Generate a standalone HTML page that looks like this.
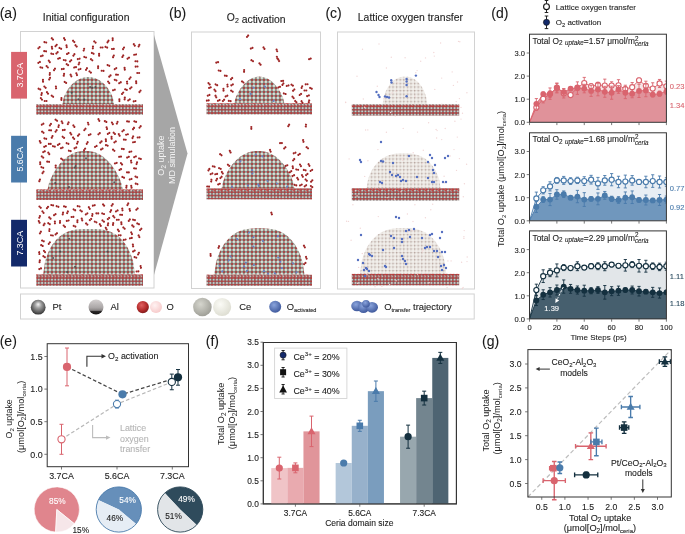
<!DOCTYPE html><html><head><meta charset="utf-8"><style>html,body{margin:0;padding:0;background:#fff;overflow:hidden}svg{display:block;will-change:transform}</style></head><body><svg width="685" height="534" viewBox="0 0 685 534" font-family="Liberation Sans">
<defs>
<pattern id="slab" width="3.3" height="3.3" patternUnits="userSpaceOnUse">
 <rect width="3.3" height="3.3" fill="#7c7474"/>
 <circle cx="0.85" cy="0.85" r="1.0" fill="#bf3838"/>
 <circle cx="2.5" cy="2.5" r="1.05" fill="#cdc9c5"/>
 <circle cx="2.5" cy="0.85" r="0.55" fill="#9a4a4a"/>
</pattern>
<radialGradient id="gsph" cx="0.42" cy="0.4" r="0.62"><stop offset="0" stop-color="#e6e8e0"/><stop offset="0.6" stop-color="#cdd0c6"/><stop offset="1" stop-color="#9ea296"/></radialGradient>
<pattern id="dome" width="4" height="4" patternUnits="userSpaceOnUse">
 <rect width="4" height="4" fill="#686662"/>
 <circle cx="2" cy="2" r="1.75" fill="url(#gsph)"/>
 <circle cx="0" cy="0" r="0.9" fill="#bf3838"/>
 <circle cx="4" cy="0" r="0.9" fill="#bf3838"/>
 <circle cx="0" cy="4" r="0.9" fill="#bf3838"/>
 <circle cx="4" cy="4" r="0.9" fill="#bf3838"/>
</pattern>
<pattern id="domec" width="3.6" height="3.6" patternUnits="userSpaceOnUse">
 <rect width="3.6" height="3.6" fill="#f2efeb"/>
 <path d="M0 0.6H3.6M0.6 0V3.6" stroke="#dbd3cd" stroke-width="0.6"/>
 <circle cx="0.6" cy="0.6" r="0.75" fill="#b8a6a0"/>
</pattern>
<pattern id="ztop" width="6.6" height="3" patternUnits="userSpaceOnUse">
 <path d="M0.6 0 L3.3 2.6 L6 0 L4.6 0 L3.3 1.3 L2 0 Z" fill="#c83434"/>
</pattern>
<pattern id="slabc" width="3.2" height="3.2" patternUnits="userSpaceOnUse">
 <rect width="3.2" height="3.2" fill="#6e6868"/>
 <circle cx="0.8" cy="0.8" r="0.9" fill="#c23a3a"/>
 <circle cx="2.4" cy="2.4" r="0.8" fill="#a8a4a2"/>
</pattern>
<radialGradient id="gPt" cx="0.5" cy="0.42" r="0.62" fx="0.5" fy="0.3"><stop offset="0" stop-color="#f4f4f4"/><stop offset="0.35" stop-color="#a0a0a0"/><stop offset="0.8" stop-color="#505050"/><stop offset="1" stop-color="#202020"/></radialGradient>
<linearGradient id="gAl" x1="0" y1="0" x2="0" y2="1"><stop offset="0" stop-color="#d4d0d0"/><stop offset="0.55" stop-color="#aaa6a6"/><stop offset="0.72" stop-color="#8a8686"/><stop offset="0.8" stop-color="#2a2828"/><stop offset="1" stop-color="#101010"/></linearGradient>
<radialGradient id="gO" cx="0.4" cy="0.35" r="0.7"><stop offset="0" stop-color="#e06060"/><stop offset="0.6" stop-color="#b42c2c"/><stop offset="1" stop-color="#7a1818"/></radialGradient>
<radialGradient id="gOl" cx="0.4" cy="0.35" r="0.7"><stop offset="0" stop-color="#fff2f2"/><stop offset="1" stop-color="#f6c8c8"/></radialGradient>
<radialGradient id="gCe" cx="0.4" cy="0.35" r="0.7"><stop offset="0" stop-color="#d6d6ce"/><stop offset="1" stop-color="#9c9c94"/></radialGradient>
<radialGradient id="gCel" cx="0.4" cy="0.35" r="0.7"><stop offset="0" stop-color="#fbfbf6"/><stop offset="1" stop-color="#dcdcd0"/></radialGradient>
<radialGradient id="gB" cx="0.4" cy="0.35" r="0.7"><stop offset="0" stop-color="#8aa4dc"/><stop offset="1" stop-color="#3a5498"/></radialGradient>
</defs>
<rect width="685" height="534" fill="#ffffff"/>
<text x="-0.30" y="17.80" font-size="14" text-anchor="start" fill="#1a1a1a" stroke="#1a1a1a" stroke-width="0.1" >(a)</text>
<text x="169.00" y="17.80" font-size="14" text-anchor="start" fill="#1a1a1a" stroke="#1a1a1a" stroke-width="0.1" >(b)</text>
<text x="325.40" y="17.80" font-size="14" text-anchor="start" fill="#1a1a1a" stroke="#1a1a1a" stroke-width="0.1" >(c)</text>
<text x="491.30" y="17.80" font-size="14" text-anchor="start" fill="#1a1a1a" stroke="#1a1a1a" stroke-width="0.1" >(d)</text>
<text x="-0.30" y="345.90" font-size="14" text-anchor="start" fill="#1a1a1a" stroke="#1a1a1a" stroke-width="0.1" >(e)</text>
<text x="205.80" y="345.90" font-size="14" text-anchor="start" fill="#1a1a1a" stroke="#1a1a1a" stroke-width="0.1" >(f)</text>
<text x="482.00" y="345.90" font-size="14" text-anchor="start" fill="#1a1a1a" stroke="#1a1a1a" stroke-width="0.1" >(g)</text>
<text x="86.10" y="20.90" font-size="10.4" text-anchor="middle" fill="#222" stroke="#222" stroke-width="0.1" >Initial configuration</text>
<text x="256.20" y="21.30" font-size="10.4" text-anchor="middle" fill="#222" stroke="#222" stroke-width="0.1" >O<tspan font-size="7" dy="2.10">2</tspan><tspan dy="-2.10"></tspan> activation</text>
<text x="410.40" y="21.30" font-size="10.4" text-anchor="middle" fill="#222" stroke="#222" stroke-width="0.1" >Lattice oxygen transfer</text>
<rect x="20.5" y="31.5" width="133.5" height="256.5" fill="none" stroke="#d2d2d2" stroke-width="1"/>
<rect x="191.5" y="32" width="129" height="256.5" fill="none" stroke="#d2d2d2" stroke-width="1"/>
<rect x="337.5" y="32" width="137" height="257" fill="none" stroke="#d2d2d2" stroke-width="1"/>
<rect x="20.5" y="294" width="453.7" height="25" fill="none" stroke="#d2d2d2" stroke-width="1"/>
<path d="M154 35 L187.5 153.5 L154 275 Z" fill="#a6a6a6"/>
<g transform="translate(163.6 155.6) rotate(-90)"><text x="0" y="0" font-size="9" text-anchor="middle" fill="#f4f4f4">O<tspan font-size="6.3" dy="2">2</tspan><tspan dy="-2"> uptake</tspan></text><text x="0" y="11.2" font-size="9" text-anchor="middle" fill="#f4f4f4">MD simulation</text></g>
<rect x="11.1" y="51.9" width="15.9" height="46.7" fill="#d9646e"/>
<text transform="translate(23 75.2) rotate(-90)" font-size="8.9" text-anchor="middle" fill="#ffffff">3.7CA</text>
<rect x="11.1" y="135.8" width="15.9" height="46.7" fill="#4a7bab"/>
<text transform="translate(23 159.2) rotate(-90)" font-size="8.9" text-anchor="middle" fill="#ffffff">5.6CA</text>
<rect x="11.1" y="219.8" width="15.9" height="46.7" fill="#13296a"/>
<text transform="translate(23 243.2) rotate(-90)" font-size="8.9" text-anchor="middle" fill="#ffffff">7.3CA</text>
<path d="M62.40,104.20 L63.48,98.45 L64.55,95.48 L65.63,93.14 L66.71,91.16 L67.79,89.44 L68.86,87.91 L69.94,86.54 L71.02,85.31 L72.09,84.19 L73.17,83.18 L74.25,82.27 L75.33,81.44 L76.40,80.70 L77.48,80.03 L78.56,79.44 L79.63,78.92 L80.71,78.46 L81.79,78.07 L82.86,77.74 L83.94,77.47 L85.02,77.26 L86.10,77.12 L87.17,77.03 L88.25,77.00 L89.33,77.03 L90.40,77.12 L91.48,77.26 L92.56,77.47 L93.64,77.74 L94.71,78.07 L95.79,78.46 L96.87,78.92 L97.94,79.44 L99.02,80.03 L100.10,80.70 L101.17,81.44 L102.25,82.27 L103.33,83.18 L104.41,84.19 L105.48,85.31 L106.56,86.54 L107.64,87.91 L108.71,89.44 L109.79,91.16 L110.87,93.14 L111.95,95.48 L113.02,98.45 L114.10,104.20 Z" fill="url(#dome)"/>
<rect x="36.3" y="104.2" width="106.7" height="10.5" fill="url(#slab)"/>
<rect x="36.3" y="104.0" width="106.7" height="3" fill="url(#ztop)" opacity="0.8"/>
<g fill="#48484c" opacity="0.85"><circle cx="90.1" cy="86.9" r="1.0"/><circle cx="84.3" cy="99.5" r="1.0"/><circle cx="92.2" cy="87.8" r="1.0"/><circle cx="78.3" cy="99.2" r="1.0"/><circle cx="71.7" cy="92.8" r="1.0"/><circle cx="95.4" cy="87.1" r="1.0"/></g>
<g fill="#9e2424"><g transform="translate(94.9 42.0) rotate(41)"><circle cx="-0.9" cy="0" r="1.08"/><circle cx="0.9" cy="0" r="1.08"/></g><g transform="translate(45.1 51.2) rotate(6)"><circle cx="-0.9" cy="0" r="1.08"/><circle cx="0.9" cy="0" r="1.08"/></g><g transform="translate(108.4 65.4) rotate(24)"><circle cx="-0.9" cy="0" r="1.08"/><circle cx="0.9" cy="0" r="1.08"/></g><g transform="translate(71.0 75.5) rotate(65)"><circle cx="-0.9" cy="0" r="1.08"/><circle cx="0.9" cy="0" r="1.08"/></g><g transform="translate(85.2 57.2) rotate(19)"><circle cx="-0.9" cy="0" r="1.08"/><circle cx="0.9" cy="0" r="1.08"/></g><g transform="translate(120.0 82.7) rotate(150)"><circle cx="-0.9" cy="0" r="1.08"/><circle cx="0.9" cy="0" r="1.08"/></g><g transform="translate(63.9 74.8) rotate(101)"><circle cx="-0.9" cy="0" r="1.08"/><circle cx="0.9" cy="0" r="1.08"/></g><g transform="translate(113.4 56.4) rotate(113)"><circle cx="-0.9" cy="0" r="1.08"/><circle cx="0.9" cy="0" r="1.08"/></g><g transform="translate(139.0 45.6) rotate(113)"><circle cx="-0.9" cy="0" r="1.08"/><circle cx="0.9" cy="0" r="1.08"/></g><g transform="translate(54.5 69.3) rotate(123)"><circle cx="-0.9" cy="0" r="1.08"/><circle cx="0.9" cy="0" r="1.08"/></g><g transform="translate(43.0 80.8) rotate(88)"><circle cx="-0.9" cy="0" r="1.08"/><circle cx="0.9" cy="0" r="1.08"/></g><g transform="translate(117.0 74.7) rotate(1)"><circle cx="-0.9" cy="0" r="1.08"/><circle cx="0.9" cy="0" r="1.08"/></g><g transform="translate(128.3 58.1) rotate(144)"><circle cx="-0.9" cy="0" r="1.08"/><circle cx="0.9" cy="0" r="1.08"/></g><g transform="translate(109.9 76.0) rotate(135)"><circle cx="-0.9" cy="0" r="1.08"/><circle cx="0.9" cy="0" r="1.08"/></g><g transform="translate(98.1 67.2) rotate(91)"><circle cx="-0.9" cy="0" r="1.08"/><circle cx="0.9" cy="0" r="1.08"/></g><g transform="translate(124.7 98.5) rotate(96)"><circle cx="-0.9" cy="0" r="1.08"/><circle cx="0.9" cy="0" r="1.08"/></g><g transform="translate(122.8 56.2) rotate(119)"><circle cx="-0.9" cy="0" r="1.08"/><circle cx="0.9" cy="0" r="1.08"/></g><g transform="translate(41.3 67.5) rotate(12)"><circle cx="-0.9" cy="0" r="1.08"/><circle cx="0.9" cy="0" r="1.08"/></g><g transform="translate(56.1 45.5) rotate(133)"><circle cx="-0.9" cy="0" r="1.08"/><circle cx="0.9" cy="0" r="1.08"/></g><g transform="translate(45.0 87.2) rotate(45)"><circle cx="-0.9" cy="0" r="1.08"/><circle cx="0.9" cy="0" r="1.08"/></g><g transform="translate(52.2 53.8) rotate(13)"><circle cx="-0.9" cy="0" r="1.08"/><circle cx="0.9" cy="0" r="1.08"/></g><g transform="translate(47.2 66.7) rotate(48)"><circle cx="-0.9" cy="0" r="1.08"/><circle cx="0.9" cy="0" r="1.08"/></g><g transform="translate(122.6 93.3) rotate(131)"><circle cx="-0.9" cy="0" r="1.08"/><circle cx="0.9" cy="0" r="1.08"/></g><g transform="translate(67.4 64.6) rotate(37)"><circle cx="-0.9" cy="0" r="1.08"/><circle cx="0.9" cy="0" r="1.08"/></g><g transform="translate(57.0 52.8) rotate(133)"><circle cx="-0.9" cy="0" r="1.08"/><circle cx="0.9" cy="0" r="1.08"/></g><g transform="translate(62.8 69.0) rotate(176)"><circle cx="-0.9" cy="0" r="1.08"/><circle cx="0.9" cy="0" r="1.08"/></g><g transform="translate(99.1 54.8) rotate(89)"><circle cx="-0.9" cy="0" r="1.08"/><circle cx="0.9" cy="0" r="1.08"/></g><g transform="translate(76.7 74.2) rotate(69)"><circle cx="-0.9" cy="0" r="1.08"/><circle cx="0.9" cy="0" r="1.08"/></g><g transform="translate(136.2 82.2) rotate(86)"><circle cx="-0.9" cy="0" r="1.08"/><circle cx="0.9" cy="0" r="1.08"/></g><g transform="translate(108.0 41.5) rotate(123)"><circle cx="-0.9" cy="0" r="1.08"/><circle cx="0.9" cy="0" r="1.08"/></g><g transform="translate(130.8 87.9) rotate(138)"><circle cx="-0.9" cy="0" r="1.08"/><circle cx="0.9" cy="0" r="1.08"/></g><g transform="translate(79.0 63.5) rotate(111)"><circle cx="-0.9" cy="0" r="1.08"/><circle cx="0.9" cy="0" r="1.08"/></g><g transform="translate(49.6 78.6) rotate(116)"><circle cx="-0.9" cy="0" r="1.08"/><circle cx="0.9" cy="0" r="1.08"/></g><g transform="translate(45.3 42.3) rotate(14)"><circle cx="-0.9" cy="0" r="1.08"/><circle cx="0.9" cy="0" r="1.08"/></g><g transform="translate(60.3 48.4) rotate(27)"><circle cx="-0.9" cy="0" r="1.08"/><circle cx="0.9" cy="0" r="1.08"/></g><g transform="translate(73.7 41.4) rotate(46)"><circle cx="-0.9" cy="0" r="1.08"/><circle cx="0.9" cy="0" r="1.08"/></g><g transform="translate(39.0 47.7) rotate(134)"><circle cx="-0.9" cy="0" r="1.08"/><circle cx="0.9" cy="0" r="1.08"/></g><g transform="translate(49.3 61.3) rotate(55)"><circle cx="-0.9" cy="0" r="1.08"/><circle cx="0.9" cy="0" r="1.08"/></g><g transform="translate(41.6 94.0) rotate(102)"><circle cx="-0.9" cy="0" r="1.08"/><circle cx="0.9" cy="0" r="1.08"/></g><g transform="translate(101.6 47.5) rotate(2)"><circle cx="-0.9" cy="0" r="1.08"/><circle cx="0.9" cy="0" r="1.08"/></g><g transform="translate(64.7 60.2) rotate(11)"><circle cx="-0.9" cy="0" r="1.08"/><circle cx="0.9" cy="0" r="1.08"/></g><g transform="translate(76.1 45.9) rotate(48)"><circle cx="-0.9" cy="0" r="1.08"/><circle cx="0.9" cy="0" r="1.08"/></g><g transform="translate(86.5 69.0) rotate(121)"><circle cx="-0.9" cy="0" r="1.08"/><circle cx="0.9" cy="0" r="1.08"/></g><g transform="translate(73.9 54.9) rotate(125)"><circle cx="-0.9" cy="0" r="1.08"/><circle cx="0.9" cy="0" r="1.08"/></g><g transform="translate(123.5 48.3) rotate(122)"><circle cx="-0.9" cy="0" r="1.08"/><circle cx="0.9" cy="0" r="1.08"/></g><g transform="translate(41.4 98.9) rotate(52)"><circle cx="-0.9" cy="0" r="1.08"/><circle cx="0.9" cy="0" r="1.08"/></g><g transform="translate(92.9 47.4) rotate(93)"><circle cx="-0.9" cy="0" r="1.08"/><circle cx="0.9" cy="0" r="1.08"/></g><g transform="translate(127.1 82.6) rotate(84)"><circle cx="-0.9" cy="0" r="1.08"/><circle cx="0.9" cy="0" r="1.08"/></g><g transform="translate(56.0 87.4) rotate(84)"><circle cx="-0.9" cy="0" r="1.08"/><circle cx="0.9" cy="0" r="1.08"/></g><g transform="translate(126.0 89.6) rotate(21)"><circle cx="-0.9" cy="0" r="1.08"/><circle cx="0.9" cy="0" r="1.08"/></g><g transform="translate(41.8 55.9) rotate(161)"><circle cx="-0.9" cy="0" r="1.08"/><circle cx="0.9" cy="0" r="1.08"/></g><g transform="translate(65.4 82.3) rotate(36)"><circle cx="-0.9" cy="0" r="1.08"/><circle cx="0.9" cy="0" r="1.08"/></g><g transform="translate(136.6 66.6) rotate(176)"><circle cx="-0.9" cy="0" r="1.08"/><circle cx="0.9" cy="0" r="1.08"/></g><g transform="translate(134.6 101.2) rotate(169)"><circle cx="-0.9" cy="0" r="1.08"/><circle cx="0.9" cy="0" r="1.08"/></g><g transform="translate(136.4 61.3) rotate(3)"><circle cx="-0.9" cy="0" r="1.08"/><circle cx="0.9" cy="0" r="1.08"/></g><g transform="translate(124.7 68.7) rotate(83)"><circle cx="-0.9" cy="0" r="1.08"/><circle cx="0.9" cy="0" r="1.08"/></g><g transform="translate(115.5 68.6) rotate(148)"><circle cx="-0.9" cy="0" r="1.08"/><circle cx="0.9" cy="0" r="1.08"/></g><g transform="translate(112.9 48.9) rotate(174)"><circle cx="-0.9" cy="0" r="1.08"/><circle cx="0.9" cy="0" r="1.08"/></g><g transform="translate(52.0 47.7) rotate(81)"><circle cx="-0.9" cy="0" r="1.08"/><circle cx="0.9" cy="0" r="1.08"/></g><g transform="translate(52.4 38.9) rotate(48)"><circle cx="-0.9" cy="0" r="1.08"/><circle cx="0.9" cy="0" r="1.08"/></g><g transform="translate(52.4 96.2) rotate(38)"><circle cx="-0.9" cy="0" r="1.08"/><circle cx="0.9" cy="0" r="1.08"/></g><g transform="translate(75.1 67.3) rotate(170)"><circle cx="-0.9" cy="0" r="1.08"/><circle cx="0.9" cy="0" r="1.08"/></g><g transform="translate(90.2 72.0) rotate(38)"><circle cx="-0.9" cy="0" r="1.08"/><circle cx="0.9" cy="0" r="1.08"/></g><g transform="translate(83.9 49.7) rotate(105)"><circle cx="-0.9" cy="0" r="1.08"/><circle cx="0.9" cy="0" r="1.08"/></g><g transform="translate(39.4 89.1) rotate(26)"><circle cx="-0.9" cy="0" r="1.08"/><circle cx="0.9" cy="0" r="1.08"/></g><g transform="translate(49.8 73.9) rotate(94)"><circle cx="-0.9" cy="0" r="1.08"/><circle cx="0.9" cy="0" r="1.08"/></g><g transform="translate(135.1 54.6) rotate(171)"><circle cx="-0.9" cy="0" r="1.08"/><circle cx="0.9" cy="0" r="1.08"/></g><g transform="translate(106.3 47.2) rotate(24)"><circle cx="-0.9" cy="0" r="1.08"/><circle cx="0.9" cy="0" r="1.08"/></g><g transform="translate(129.0 99.9) rotate(148)"><circle cx="-0.9" cy="0" r="1.08"/><circle cx="0.9" cy="0" r="1.08"/></g><g transform="translate(61.4 99.0) rotate(92)"><circle cx="-0.9" cy="0" r="1.08"/><circle cx="0.9" cy="0" r="1.08"/></g><g transform="translate(79.6 69.2) rotate(160)"><circle cx="-0.9" cy="0" r="1.08"/><circle cx="0.9" cy="0" r="1.08"/></g><g transform="translate(140.0 91.3) rotate(127)"><circle cx="-0.9" cy="0" r="1.08"/><circle cx="0.9" cy="0" r="1.08"/></g><g transform="translate(91.6 59.7) rotate(42)"><circle cx="-0.9" cy="0" r="1.08"/><circle cx="0.9" cy="0" r="1.08"/></g><g transform="translate(59.0 58.4) rotate(162)"><circle cx="-0.9" cy="0" r="1.08"/><circle cx="0.9" cy="0" r="1.08"/></g><g transform="translate(112.7 39.2) rotate(88)"><circle cx="-0.9" cy="0" r="1.08"/><circle cx="0.9" cy="0" r="1.08"/></g><g transform="translate(102.6 70.8) rotate(4)"><circle cx="-0.9" cy="0" r="1.08"/><circle cx="0.9" cy="0" r="1.08"/></g><g transform="translate(45.6 101.0) rotate(1)"><circle cx="-0.9" cy="0" r="1.08"/><circle cx="0.9" cy="0" r="1.08"/></g><g transform="translate(119.4 100.2) rotate(89)"><circle cx="-0.9" cy="0" r="1.08"/><circle cx="0.9" cy="0" r="1.08"/></g><g transform="translate(66.6 46.3) rotate(81)"><circle cx="-0.9" cy="0" r="1.08"/><circle cx="0.9" cy="0" r="1.08"/></g><g transform="translate(47.5 92.8) rotate(54)"><circle cx="-0.9" cy="0" r="1.08"/><circle cx="0.9" cy="0" r="1.08"/></g><g transform="translate(92.7 53.3) rotate(25)"><circle cx="-0.9" cy="0" r="1.08"/><circle cx="0.9" cy="0" r="1.08"/></g><g transform="translate(64.5 39.0) rotate(62)"><circle cx="-0.9" cy="0" r="1.08"/><circle cx="0.9" cy="0" r="1.08"/></g><g transform="translate(134.3 44.8) rotate(57)"><circle cx="-0.9" cy="0" r="1.08"/><circle cx="0.9" cy="0" r="1.08"/></g><g transform="translate(67.8 53.5) rotate(151)"><circle cx="-0.9" cy="0" r="1.08"/><circle cx="0.9" cy="0" r="1.08"/></g><g transform="translate(138.2 73.0) rotate(0)"><circle cx="-0.9" cy="0" r="1.08"/><circle cx="0.9" cy="0" r="1.08"/></g><g transform="translate(70.6 60.8) rotate(135)"><circle cx="-0.9" cy="0" r="1.08"/><circle cx="0.9" cy="0" r="1.08"/></g><g transform="translate(39.1 62.4) rotate(151)"><circle cx="-0.9" cy="0" r="1.08"/><circle cx="0.9" cy="0" r="1.08"/></g><g transform="translate(115.6 80.1) rotate(22)"><circle cx="-0.9" cy="0" r="1.08"/><circle cx="0.9" cy="0" r="1.08"/></g><g transform="translate(78.7 58.9) rotate(167)"><circle cx="-0.9" cy="0" r="1.08"/><circle cx="0.9" cy="0" r="1.08"/></g><g transform="translate(130.0 78.1) rotate(128)"><circle cx="-0.9" cy="0" r="1.08"/><circle cx="0.9" cy="0" r="1.08"/></g><g transform="translate(113.9 90.0) rotate(162)"><circle cx="-0.9" cy="0" r="1.08"/><circle cx="0.9" cy="0" r="1.08"/></g><g transform="translate(108.7 82.4) rotate(52)"><circle cx="-0.9" cy="0" r="1.08"/><circle cx="0.9" cy="0" r="1.08"/></g></g>
<path d="M47.50,189.50 L49.07,183.19 L50.64,179.09 L52.21,175.67 L53.78,172.68 L55.35,170.02 L56.92,167.63 L58.50,165.47 L60.07,163.51 L61.64,161.74 L63.21,160.13 L64.78,158.69 L66.35,157.39 L67.92,156.23 L69.49,155.20 L71.06,154.30 L72.63,153.51 L74.20,152.84 L75.78,152.28 L77.35,151.82 L78.92,151.46 L80.49,151.20 L82.06,151.02 L83.63,150.93 L85.20,150.90 L86.77,150.93 L88.34,151.02 L89.91,151.20 L91.48,151.46 L93.05,151.82 L94.62,152.28 L96.20,152.84 L97.77,153.51 L99.34,154.30 L100.91,155.20 L102.48,156.23 L104.05,157.39 L105.62,158.69 L107.19,160.13 L108.76,161.74 L110.33,163.51 L111.90,165.47 L113.48,167.63 L115.05,170.02 L116.62,172.68 L118.19,175.67 L119.76,179.09 L121.33,183.19 L122.90,189.50 Z" fill="url(#dome)"/>
<rect x="36.3" y="189.5" width="106.7" height="10.5" fill="url(#slab)"/>
<rect x="36.3" y="189.3" width="106.7" height="3" fill="url(#ztop)" opacity="0.8"/>
<g fill="#48484c" opacity="0.85"><circle cx="75.6" cy="166.1" r="1.0"/><circle cx="74.7" cy="167.4" r="1.0"/><circle cx="55.2" cy="183.1" r="1.0"/><circle cx="69.0" cy="187.0" r="1.0"/><circle cx="86.0" cy="158.2" r="1.0"/><circle cx="114.2" cy="182.2" r="1.0"/></g>
<g fill="#9e2424"><g transform="translate(135.0 156.8) rotate(158)"><circle cx="-0.9" cy="0" r="1.08"/><circle cx="0.9" cy="0" r="1.08"/></g><g transform="translate(112.4 123.3) rotate(59)"><circle cx="-0.9" cy="0" r="1.08"/><circle cx="0.9" cy="0" r="1.08"/></g><g transform="translate(113.7 150.2) rotate(43)"><circle cx="-0.9" cy="0" r="1.08"/><circle cx="0.9" cy="0" r="1.08"/></g><g transform="translate(115.8 163.2) rotate(163)"><circle cx="-0.9" cy="0" r="1.08"/><circle cx="0.9" cy="0" r="1.08"/></g><g transform="translate(68.2 123.3) rotate(114)"><circle cx="-0.9" cy="0" r="1.08"/><circle cx="0.9" cy="0" r="1.08"/></g><g transform="translate(133.5 128.5) rotate(125)"><circle cx="-0.9" cy="0" r="1.08"/><circle cx="0.9" cy="0" r="1.08"/></g><g transform="translate(87.2 143.0) rotate(120)"><circle cx="-0.9" cy="0" r="1.08"/><circle cx="0.9" cy="0" r="1.08"/></g><g transform="translate(138.6 137.4) rotate(176)"><circle cx="-0.9" cy="0" r="1.08"/><circle cx="0.9" cy="0" r="1.08"/></g><g transform="translate(105.9 140.2) rotate(85)"><circle cx="-0.9" cy="0" r="1.08"/><circle cx="0.9" cy="0" r="1.08"/></g><g transform="translate(95.8 146.4) rotate(151)"><circle cx="-0.9" cy="0" r="1.08"/><circle cx="0.9" cy="0" r="1.08"/></g><g transform="translate(56.1 130.8) rotate(126)"><circle cx="-0.9" cy="0" r="1.08"/><circle cx="0.9" cy="0" r="1.08"/></g><g transform="translate(89.7 134.7) rotate(154)"><circle cx="-0.9" cy="0" r="1.08"/><circle cx="0.9" cy="0" r="1.08"/></g><g transform="translate(131.4 186.8) rotate(79)"><circle cx="-0.9" cy="0" r="1.08"/><circle cx="0.9" cy="0" r="1.08"/></g><g transform="translate(84.9 129.4) rotate(130)"><circle cx="-0.9" cy="0" r="1.08"/><circle cx="0.9" cy="0" r="1.08"/></g><g transform="translate(58.6 126.1) rotate(103)"><circle cx="-0.9" cy="0" r="1.08"/><circle cx="0.9" cy="0" r="1.08"/></g><g transform="translate(73.9 126.1) rotate(55)"><circle cx="-0.9" cy="0" r="1.08"/><circle cx="0.9" cy="0" r="1.08"/></g><g transform="translate(63.4 137.3) rotate(38)"><circle cx="-0.9" cy="0" r="1.08"/><circle cx="0.9" cy="0" r="1.08"/></g><g transform="translate(77.4 142.7) rotate(112)"><circle cx="-0.9" cy="0" r="1.08"/><circle cx="0.9" cy="0" r="1.08"/></g><g transform="translate(45.3 138.6) rotate(14)"><circle cx="-0.9" cy="0" r="1.08"/><circle cx="0.9" cy="0" r="1.08"/></g><g transform="translate(127.0 134.5) rotate(164)"><circle cx="-0.9" cy="0" r="1.08"/><circle cx="0.9" cy="0" r="1.08"/></g><g transform="translate(136.3 176.9) rotate(26)"><circle cx="-0.9" cy="0" r="1.08"/><circle cx="0.9" cy="0" r="1.08"/></g><g transform="translate(128.0 121.5) rotate(5)"><circle cx="-0.9" cy="0" r="1.08"/><circle cx="0.9" cy="0" r="1.08"/></g><g transform="translate(42.3 167.5) rotate(19)"><circle cx="-0.9" cy="0" r="1.08"/><circle cx="0.9" cy="0" r="1.08"/></g><g transform="translate(130.4 151.7) rotate(167)"><circle cx="-0.9" cy="0" r="1.08"/><circle cx="0.9" cy="0" r="1.08"/></g><g transform="translate(98.9 120.0) rotate(62)"><circle cx="-0.9" cy="0" r="1.08"/><circle cx="0.9" cy="0" r="1.08"/></g><g transform="translate(123.2 177.3) rotate(26)"><circle cx="-0.9" cy="0" r="1.08"/><circle cx="0.9" cy="0" r="1.08"/></g><g transform="translate(50.1 130.3) rotate(5)"><circle cx="-0.9" cy="0" r="1.08"/><circle cx="0.9" cy="0" r="1.08"/></g><g transform="translate(135.0 168.4) rotate(7)"><circle cx="-0.9" cy="0" r="1.08"/><circle cx="0.9" cy="0" r="1.08"/></g><g transform="translate(43.0 172.4) rotate(125)"><circle cx="-0.9" cy="0" r="1.08"/><circle cx="0.9" cy="0" r="1.08"/></g><g transform="translate(52.1 136.9) rotate(114)"><circle cx="-0.9" cy="0" r="1.08"/><circle cx="0.9" cy="0" r="1.08"/></g><g transform="translate(50.4 124.7) rotate(125)"><circle cx="-0.9" cy="0" r="1.08"/><circle cx="0.9" cy="0" r="1.08"/></g><g transform="translate(78.6 135.0) rotate(133)"><circle cx="-0.9" cy="0" r="1.08"/><circle cx="0.9" cy="0" r="1.08"/></g><g transform="translate(69.8 150.9) rotate(12)"><circle cx="-0.9" cy="0" r="1.08"/><circle cx="0.9" cy="0" r="1.08"/></g><g transform="translate(136.8 163.2) rotate(106)"><circle cx="-0.9" cy="0" r="1.08"/><circle cx="0.9" cy="0" r="1.08"/></g><g transform="translate(62.1 122.3) rotate(65)"><circle cx="-0.9" cy="0" r="1.08"/><circle cx="0.9" cy="0" r="1.08"/></g><g transform="translate(108.6 133.3) rotate(147)"><circle cx="-0.9" cy="0" r="1.08"/><circle cx="0.9" cy="0" r="1.08"/></g><g transform="translate(120.3 169.5) rotate(148)"><circle cx="-0.9" cy="0" r="1.08"/><circle cx="0.9" cy="0" r="1.08"/></g><g transform="translate(61.8 147.9) rotate(160)"><circle cx="-0.9" cy="0" r="1.08"/><circle cx="0.9" cy="0" r="1.08"/></g><g transform="translate(53.9 146.4) rotate(12)"><circle cx="-0.9" cy="0" r="1.08"/><circle cx="0.9" cy="0" r="1.08"/></g><g transform="translate(45.1 146.4) rotate(156)"><circle cx="-0.9" cy="0" r="1.08"/><circle cx="0.9" cy="0" r="1.08"/></g><g transform="translate(130.6 179.2) rotate(165)"><circle cx="-0.9" cy="0" r="1.08"/><circle cx="0.9" cy="0" r="1.08"/></g><g transform="translate(134.0 142.1) rotate(170)"><circle cx="-0.9" cy="0" r="1.08"/><circle cx="0.9" cy="0" r="1.08"/></g><g transform="translate(106.8 145.4) rotate(19)"><circle cx="-0.9" cy="0" r="1.08"/><circle cx="0.9" cy="0" r="1.08"/></g><g transform="translate(56.3 120.2) rotate(37)"><circle cx="-0.9" cy="0" r="1.08"/><circle cx="0.9" cy="0" r="1.08"/></g><g transform="translate(67.5 143.5) rotate(20)"><circle cx="-0.9" cy="0" r="1.08"/><circle cx="0.9" cy="0" r="1.08"/></g><g transform="translate(122.8 149.0) rotate(6)"><circle cx="-0.9" cy="0" r="1.08"/><circle cx="0.9" cy="0" r="1.08"/></g><g transform="translate(44.0 151.7) rotate(153)"><circle cx="-0.9" cy="0" r="1.08"/><circle cx="0.9" cy="0" r="1.08"/></g><g transform="translate(58.7 144.4) rotate(146)"><circle cx="-0.9" cy="0" r="1.08"/><circle cx="0.9" cy="0" r="1.08"/></g><g transform="translate(117.2 122.7) rotate(114)"><circle cx="-0.9" cy="0" r="1.08"/><circle cx="0.9" cy="0" r="1.08"/></g><g transform="translate(42.6 124.2) rotate(149)"><circle cx="-0.9" cy="0" r="1.08"/><circle cx="0.9" cy="0" r="1.08"/></g><g transform="translate(132.8 137.2) rotate(114)"><circle cx="-0.9" cy="0" r="1.08"/><circle cx="0.9" cy="0" r="1.08"/></g><g transform="translate(73.6 138.2) rotate(52)"><circle cx="-0.9" cy="0" r="1.08"/><circle cx="0.9" cy="0" r="1.08"/></g><g transform="translate(135.2 121.6) rotate(18)"><circle cx="-0.9" cy="0" r="1.08"/><circle cx="0.9" cy="0" r="1.08"/></g><g transform="translate(136.6 183.9) rotate(18)"><circle cx="-0.9" cy="0" r="1.08"/><circle cx="0.9" cy="0" r="1.08"/></g><g transform="translate(100.9 142.0) rotate(136)"><circle cx="-0.9" cy="0" r="1.08"/><circle cx="0.9" cy="0" r="1.08"/></g><g transform="translate(42.5 157.0) rotate(37)"><circle cx="-0.9" cy="0" r="1.08"/><circle cx="0.9" cy="0" r="1.08"/></g><g transform="translate(48.8 153.4) rotate(57)"><circle cx="-0.9" cy="0" r="1.08"/><circle cx="0.9" cy="0" r="1.08"/></g><g transform="translate(106.8 128.1) rotate(76)"><circle cx="-0.9" cy="0" r="1.08"/><circle cx="0.9" cy="0" r="1.08"/></g><g transform="translate(124.8 139.7) rotate(4)"><circle cx="-0.9" cy="0" r="1.08"/><circle cx="0.9" cy="0" r="1.08"/></g><g transform="translate(114.3 133.3) rotate(46)"><circle cx="-0.9" cy="0" r="1.08"/><circle cx="0.9" cy="0" r="1.08"/></g><g transform="translate(121.5 163.8) rotate(51)"><circle cx="-0.9" cy="0" r="1.08"/><circle cx="0.9" cy="0" r="1.08"/></g><g transform="translate(140.1 126.9) rotate(129)"><circle cx="-0.9" cy="0" r="1.08"/><circle cx="0.9" cy="0" r="1.08"/></g><g transform="translate(40.2 141.9) rotate(66)"><circle cx="-0.9" cy="0" r="1.08"/><circle cx="0.9" cy="0" r="1.08"/></g><g transform="translate(70.8 133.6) rotate(58)"><circle cx="-0.9" cy="0" r="1.08"/><circle cx="0.9" cy="0" r="1.08"/></g><g transform="translate(120.1 156.7) rotate(174)"><circle cx="-0.9" cy="0" r="1.08"/><circle cx="0.9" cy="0" r="1.08"/></g><g transform="translate(55.7 166.6) rotate(91)"><circle cx="-0.9" cy="0" r="1.08"/><circle cx="0.9" cy="0" r="1.08"/></g><g transform="translate(75.4 147.9) rotate(153)"><circle cx="-0.9" cy="0" r="1.08"/><circle cx="0.9" cy="0" r="1.08"/></g><g transform="translate(39.6 180.4) rotate(111)"><circle cx="-0.9" cy="0" r="1.08"/><circle cx="0.9" cy="0" r="1.08"/></g><g transform="translate(48.1 161.7) rotate(6)"><circle cx="-0.9" cy="0" r="1.08"/><circle cx="0.9" cy="0" r="1.08"/></g><g transform="translate(88.2 123.6) rotate(74)"><circle cx="-0.9" cy="0" r="1.08"/><circle cx="0.9" cy="0" r="1.08"/></g><g transform="translate(131.2 161.6) rotate(79)"><circle cx="-0.9" cy="0" r="1.08"/><circle cx="0.9" cy="0" r="1.08"/></g><g transform="translate(123.1 130.7) rotate(139)"><circle cx="-0.9" cy="0" r="1.08"/><circle cx="0.9" cy="0" r="1.08"/></g><g transform="translate(119.2 134.9) rotate(62)"><circle cx="-0.9" cy="0" r="1.08"/><circle cx="0.9" cy="0" r="1.08"/></g><g transform="translate(84.6 149.4) rotate(127)"><circle cx="-0.9" cy="0" r="1.08"/><circle cx="0.9" cy="0" r="1.08"/></g><g transform="translate(126.4 186.7) rotate(97)"><circle cx="-0.9" cy="0" r="1.08"/><circle cx="0.9" cy="0" r="1.08"/></g><g transform="translate(42.8 132.2) rotate(39)"><circle cx="-0.9" cy="0" r="1.08"/><circle cx="0.9" cy="0" r="1.08"/></g><g transform="translate(128.0 157.2) rotate(155)"><circle cx="-0.9" cy="0" r="1.08"/><circle cx="0.9" cy="0" r="1.08"/></g><g transform="translate(140.0 158.7) rotate(16)"><circle cx="-0.9" cy="0" r="1.08"/><circle cx="0.9" cy="0" r="1.08"/></g><g transform="translate(101.8 149.0) rotate(148)"><circle cx="-0.9" cy="0" r="1.08"/><circle cx="0.9" cy="0" r="1.08"/></g><g transform="translate(105.6 121.5) rotate(31)"><circle cx="-0.9" cy="0" r="1.08"/><circle cx="0.9" cy="0" r="1.08"/></g><g transform="translate(49.8 143.9) rotate(0)"><circle cx="-0.9" cy="0" r="1.08"/><circle cx="0.9" cy="0" r="1.08"/></g><g transform="translate(61.9 159.1) rotate(36)"><circle cx="-0.9" cy="0" r="1.08"/><circle cx="0.9" cy="0" r="1.08"/></g><g transform="translate(99.1 133.7) rotate(137)"><circle cx="-0.9" cy="0" r="1.08"/><circle cx="0.9" cy="0" r="1.08"/></g><g transform="translate(63.8 130.0) rotate(176)"><circle cx="-0.9" cy="0" r="1.08"/><circle cx="0.9" cy="0" r="1.08"/></g><g transform="translate(127.9 172.4) rotate(1)"><circle cx="-0.9" cy="0" r="1.08"/><circle cx="0.9" cy="0" r="1.08"/></g><g transform="translate(40.2 163.2) rotate(88)"><circle cx="-0.9" cy="0" r="1.08"/><circle cx="0.9" cy="0" r="1.08"/></g><g transform="translate(111.6 137.8) rotate(88)"><circle cx="-0.9" cy="0" r="1.08"/><circle cx="0.9" cy="0" r="1.08"/></g><g transform="translate(115.1 141.9) rotate(143)"><circle cx="-0.9" cy="0" r="1.08"/><circle cx="0.9" cy="0" r="1.08"/></g></g>
<path d="M43.10,274.50 L45.02,261.73 L46.93,255.63 L48.85,251.05 L50.77,247.35 L52.68,244.28 L54.60,241.68 L56.52,239.46 L58.43,237.57 L60.35,235.95 L62.27,234.57 L64.18,233.40 L66.10,232.41 L68.02,231.59 L69.93,230.91 L71.85,230.36 L73.77,229.92 L75.68,229.58 L77.60,229.33 L79.52,229.15 L81.43,229.03 L83.35,228.95 L85.27,228.92 L87.18,228.90 L89.10,228.90 L91.02,228.90 L92.93,228.92 L94.85,228.95 L96.77,229.03 L98.68,229.15 L100.60,229.33 L102.52,229.58 L104.43,229.92 L106.35,230.36 L108.27,230.91 L110.18,231.59 L112.10,232.41 L114.02,233.40 L115.93,234.57 L117.85,235.95 L119.77,237.57 L121.68,239.46 L123.60,241.68 L125.52,244.28 L127.43,247.35 L129.35,251.05 L131.27,255.63 L133.18,261.73 L135.10,274.50 Z" fill="url(#dome)"/>
<rect x="36.3" y="274.5" width="106.7" height="11.3" fill="url(#slab)"/>
<rect x="36.3" y="274.3" width="106.7" height="3" fill="url(#ztop)" opacity="0.8"/>
<g fill="#48484c" opacity="0.85"><circle cx="60.1" cy="251.5" r="1.0"/><circle cx="75.0" cy="266.8" r="1.0"/><circle cx="67.1" cy="271.9" r="1.0"/><circle cx="69.2" cy="238.7" r="1.0"/><circle cx="107.5" cy="251.6" r="1.0"/><circle cx="53.2" cy="257.9" r="1.0"/></g>
<g fill="#9e2424"><g transform="translate(129.8 209.9) rotate(77)"><circle cx="-0.9" cy="0" r="1.08"/><circle cx="0.9" cy="0" r="1.08"/></g><g transform="translate(60.0 221.9) rotate(92)"><circle cx="-0.9" cy="0" r="1.08"/><circle cx="0.9" cy="0" r="1.08"/></g><g transform="translate(130.9 238.1) rotate(167)"><circle cx="-0.9" cy="0" r="1.08"/><circle cx="0.9" cy="0" r="1.08"/></g><g transform="translate(74.5 226.2) rotate(23)"><circle cx="-0.9" cy="0" r="1.08"/><circle cx="0.9" cy="0" r="1.08"/></g><g transform="translate(56.3 233.8) rotate(137)"><circle cx="-0.9" cy="0" r="1.08"/><circle cx="0.9" cy="0" r="1.08"/></g><g transform="translate(51.9 235.4) rotate(8)"><circle cx="-0.9" cy="0" r="1.08"/><circle cx="0.9" cy="0" r="1.08"/></g><g transform="translate(129.3 220.2) rotate(126)"><circle cx="-0.9" cy="0" r="1.08"/><circle cx="0.9" cy="0" r="1.08"/></g><g transform="translate(54.8 214.6) rotate(145)"><circle cx="-0.9" cy="0" r="1.08"/><circle cx="0.9" cy="0" r="1.08"/></g><g transform="translate(64.3 226.2) rotate(47)"><circle cx="-0.9" cy="0" r="1.08"/><circle cx="0.9" cy="0" r="1.08"/></g><g transform="translate(92.3 214.9) rotate(98)"><circle cx="-0.9" cy="0" r="1.08"/><circle cx="0.9" cy="0" r="1.08"/></g><g transform="translate(72.5 216.9) rotate(174)"><circle cx="-0.9" cy="0" r="1.08"/><circle cx="0.9" cy="0" r="1.08"/></g><g transform="translate(138.5 253.6) rotate(115)"><circle cx="-0.9" cy="0" r="1.08"/><circle cx="0.9" cy="0" r="1.08"/></g><g transform="translate(49.4 230.1) rotate(98)"><circle cx="-0.9" cy="0" r="1.08"/><circle cx="0.9" cy="0" r="1.08"/></g><g transform="translate(49.9 218.0) rotate(45)"><circle cx="-0.9" cy="0" r="1.08"/><circle cx="0.9" cy="0" r="1.08"/></g><g transform="translate(78.6 206.3) rotate(11)"><circle cx="-0.9" cy="0" r="1.08"/><circle cx="0.9" cy="0" r="1.08"/></g><g transform="translate(131.6 233.2) rotate(64)"><circle cx="-0.9" cy="0" r="1.08"/><circle cx="0.9" cy="0" r="1.08"/></g><g transform="translate(82.0 219.5) rotate(74)"><circle cx="-0.9" cy="0" r="1.08"/><circle cx="0.9" cy="0" r="1.08"/></g><g transform="translate(103.2 221.0) rotate(36)"><circle cx="-0.9" cy="0" r="1.08"/><circle cx="0.9" cy="0" r="1.08"/></g><g transform="translate(118.4 230.4) rotate(56)"><circle cx="-0.9" cy="0" r="1.08"/><circle cx="0.9" cy="0" r="1.08"/></g><g transform="translate(42.9 240.9) rotate(25)"><circle cx="-0.9" cy="0" r="1.08"/><circle cx="0.9" cy="0" r="1.08"/></g><g transform="translate(49.3 243.1) rotate(127)"><circle cx="-0.9" cy="0" r="1.08"/><circle cx="0.9" cy="0" r="1.08"/></g><g transform="translate(40.4 232.5) rotate(121)"><circle cx="-0.9" cy="0" r="1.08"/><circle cx="0.9" cy="0" r="1.08"/></g><g transform="translate(86.7 224.0) rotate(43)"><circle cx="-0.9" cy="0" r="1.08"/><circle cx="0.9" cy="0" r="1.08"/></g><g transform="translate(124.0 228.1) rotate(44)"><circle cx="-0.9" cy="0" r="1.08"/><circle cx="0.9" cy="0" r="1.08"/></g><g transform="translate(77.4 221.2) rotate(93)"><circle cx="-0.9" cy="0" r="1.08"/><circle cx="0.9" cy="0" r="1.08"/></g><g transform="translate(39.3 253.1) rotate(80)"><circle cx="-0.9" cy="0" r="1.08"/><circle cx="0.9" cy="0" r="1.08"/></g><g transform="translate(67.7 220.7) rotate(168)"><circle cx="-0.9" cy="0" r="1.08"/><circle cx="0.9" cy="0" r="1.08"/></g><g transform="translate(106.2 228.6) rotate(63)"><circle cx="-0.9" cy="0" r="1.08"/><circle cx="0.9" cy="0" r="1.08"/></g><g transform="translate(103.6 205.0) rotate(54)"><circle cx="-0.9" cy="0" r="1.08"/><circle cx="0.9" cy="0" r="1.08"/></g><g transform="translate(40.2 268.7) rotate(159)"><circle cx="-0.9" cy="0" r="1.08"/><circle cx="0.9" cy="0" r="1.08"/></g><g transform="translate(95.6 222.0) rotate(26)"><circle cx="-0.9" cy="0" r="1.08"/><circle cx="0.9" cy="0" r="1.08"/></g><g transform="translate(62.9 213.5) rotate(101)"><circle cx="-0.9" cy="0" r="1.08"/><circle cx="0.9" cy="0" r="1.08"/></g><g transform="translate(89.3 208.0) rotate(60)"><circle cx="-0.9" cy="0" r="1.08"/><circle cx="0.9" cy="0" r="1.08"/></g><g transform="translate(86.6 213.8) rotate(147)"><circle cx="-0.9" cy="0" r="1.08"/><circle cx="0.9" cy="0" r="1.08"/></g><g transform="translate(39.7 261.2) rotate(99)"><circle cx="-0.9" cy="0" r="1.08"/><circle cx="0.9" cy="0" r="1.08"/></g><g transform="translate(137.0 209.1) rotate(137)"><circle cx="-0.9" cy="0" r="1.08"/><circle cx="0.9" cy="0" r="1.08"/></g><g transform="translate(41.9 245.5) rotate(30)"><circle cx="-0.9" cy="0" r="1.08"/><circle cx="0.9" cy="0" r="1.08"/></g><g transform="translate(44.1 224.4) rotate(120)"><circle cx="-0.9" cy="0" r="1.08"/><circle cx="0.9" cy="0" r="1.08"/></g><g transform="translate(39.6 216.9) rotate(108)"><circle cx="-0.9" cy="0" r="1.08"/><circle cx="0.9" cy="0" r="1.08"/></g><g transform="translate(133.0 245.4) rotate(83)"><circle cx="-0.9" cy="0" r="1.08"/><circle cx="0.9" cy="0" r="1.08"/></g><g transform="translate(108.5 218.5) rotate(138)"><circle cx="-0.9" cy="0" r="1.08"/><circle cx="0.9" cy="0" r="1.08"/></g><g transform="translate(116.8 210.9) rotate(150)"><circle cx="-0.9" cy="0" r="1.08"/><circle cx="0.9" cy="0" r="1.08"/></g><g transform="translate(57.5 206.5) rotate(21)"><circle cx="-0.9" cy="0" r="1.08"/><circle cx="0.9" cy="0" r="1.08"/></g><g transform="translate(43.0 212.1) rotate(52)"><circle cx="-0.9" cy="0" r="1.08"/><circle cx="0.9" cy="0" r="1.08"/></g><g transform="translate(139.0 236.3) rotate(65)"><circle cx="-0.9" cy="0" r="1.08"/><circle cx="0.9" cy="0" r="1.08"/></g><g transform="translate(81.1 210.9) rotate(37)"><circle cx="-0.9" cy="0" r="1.08"/><circle cx="0.9" cy="0" r="1.08"/></g><g transform="translate(52.2 205.2) rotate(11)"><circle cx="-0.9" cy="0" r="1.08"/><circle cx="0.9" cy="0" r="1.08"/></g><g transform="translate(113.8 216.7) rotate(51)"><circle cx="-0.9" cy="0" r="1.08"/><circle cx="0.9" cy="0" r="1.08"/></g><g transform="translate(44.1 256.6) rotate(35)"><circle cx="-0.9" cy="0" r="1.08"/><circle cx="0.9" cy="0" r="1.08"/></g><g transform="translate(112.2 204.8) rotate(126)"><circle cx="-0.9" cy="0" r="1.08"/><circle cx="0.9" cy="0" r="1.08"/></g><g transform="translate(122.4 209.4) rotate(81)"><circle cx="-0.9" cy="0" r="1.08"/><circle cx="0.9" cy="0" r="1.08"/></g><g transform="translate(135.4 257.4) rotate(20)"><circle cx="-0.9" cy="0" r="1.08"/><circle cx="0.9" cy="0" r="1.08"/></g><g transform="translate(100.3 225.0) rotate(58)"><circle cx="-0.9" cy="0" r="1.08"/><circle cx="0.9" cy="0" r="1.08"/></g><g transform="translate(121.4 223.3) rotate(84)"><circle cx="-0.9" cy="0" r="1.08"/><circle cx="0.9" cy="0" r="1.08"/></g><g transform="translate(39.2 221.9) rotate(65)"><circle cx="-0.9" cy="0" r="1.08"/><circle cx="0.9" cy="0" r="1.08"/></g><g transform="translate(74.4 209.8) rotate(30)"><circle cx="-0.9" cy="0" r="1.08"/><circle cx="0.9" cy="0" r="1.08"/></g><g transform="translate(134.0 219.9) rotate(13)"><circle cx="-0.9" cy="0" r="1.08"/><circle cx="0.9" cy="0" r="1.08"/></g><g transform="translate(119.7 235.3) rotate(2)"><circle cx="-0.9" cy="0" r="1.08"/><circle cx="0.9" cy="0" r="1.08"/></g><g transform="translate(117.8 219.8) rotate(179)"><circle cx="-0.9" cy="0" r="1.08"/><circle cx="0.9" cy="0" r="1.08"/></g><g transform="translate(140.7 229.4) rotate(135)"><circle cx="-0.9" cy="0" r="1.08"/><circle cx="0.9" cy="0" r="1.08"/></g><g transform="translate(64.9 206.6) rotate(15)"><circle cx="-0.9" cy="0" r="1.08"/><circle cx="0.9" cy="0" r="1.08"/></g><g transform="translate(47.5 207.5) rotate(129)"><circle cx="-0.9" cy="0" r="1.08"/><circle cx="0.9" cy="0" r="1.08"/></g><g transform="translate(137.5 271.4) rotate(176)"><circle cx="-0.9" cy="0" r="1.08"/><circle cx="0.9" cy="0" r="1.08"/></g><g transform="translate(108.0 224.3) rotate(101)"><circle cx="-0.9" cy="0" r="1.08"/><circle cx="0.9" cy="0" r="1.08"/></g><g transform="translate(103.1 213.7) rotate(20)"><circle cx="-0.9" cy="0" r="1.08"/><circle cx="0.9" cy="0" r="1.08"/></g><g transform="translate(54.9 222.4) rotate(88)"><circle cx="-0.9" cy="0" r="1.08"/><circle cx="0.9" cy="0" r="1.08"/></g><g transform="translate(140.8 266.9) rotate(78)"><circle cx="-0.9" cy="0" r="1.08"/><circle cx="0.9" cy="0" r="1.08"/></g><g transform="translate(49.0 223.7) rotate(34)"><circle cx="-0.9" cy="0" r="1.08"/><circle cx="0.9" cy="0" r="1.08"/></g><g transform="translate(113.1 224.0) rotate(98)"><circle cx="-0.9" cy="0" r="1.08"/><circle cx="0.9" cy="0" r="1.08"/></g><g transform="translate(97.3 213.4) rotate(1)"><circle cx="-0.9" cy="0" r="1.08"/><circle cx="0.9" cy="0" r="1.08"/></g><g transform="translate(93.8 205.4) rotate(166)"><circle cx="-0.9" cy="0" r="1.08"/><circle cx="0.9" cy="0" r="1.08"/></g><g transform="translate(110.7 211.0) rotate(116)"><circle cx="-0.9" cy="0" r="1.08"/><circle cx="0.9" cy="0" r="1.08"/></g><g transform="translate(67.5 212.3) rotate(113)"><circle cx="-0.9" cy="0" r="1.08"/><circle cx="0.9" cy="0" r="1.08"/></g><g transform="translate(124.7 239.7) rotate(168)"><circle cx="-0.9" cy="0" r="1.08"/><circle cx="0.9" cy="0" r="1.08"/></g><g transform="translate(127.8 204.3) rotate(117)"><circle cx="-0.9" cy="0" r="1.08"/><circle cx="0.9" cy="0" r="1.08"/></g><g transform="translate(132.9 226.0) rotate(45)"><circle cx="-0.9" cy="0" r="1.08"/><circle cx="0.9" cy="0" r="1.08"/></g><g transform="translate(40.1 207.2) rotate(44)"><circle cx="-0.9" cy="0" r="1.08"/><circle cx="0.9" cy="0" r="1.08"/></g><g transform="translate(138.1 223.8) rotate(25)"><circle cx="-0.9" cy="0" r="1.08"/><circle cx="0.9" cy="0" r="1.08"/></g><g transform="translate(121.1 214.8) rotate(5)"><circle cx="-0.9" cy="0" r="1.08"/><circle cx="0.9" cy="0" r="1.08"/></g><g transform="translate(90.5 219.5) rotate(139)"><circle cx="-0.9" cy="0" r="1.08"/><circle cx="0.9" cy="0" r="1.08"/></g><g transform="translate(133.9 251.0) rotate(151)"><circle cx="-0.9" cy="0" r="1.08"/><circle cx="0.9" cy="0" r="1.08"/></g><g transform="translate(44.5 251.5) rotate(53)"><circle cx="-0.9" cy="0" r="1.08"/><circle cx="0.9" cy="0" r="1.08"/></g></g>
<path d="M234.20,103.40 L235.25,98.99 L236.29,96.25 L237.34,93.97 L238.38,91.99 L239.43,90.22 L240.47,88.62 L241.52,87.17 L242.57,85.85 L243.61,84.64 L244.66,83.54 L245.70,82.53 L246.75,81.61 L247.80,80.78 L248.84,80.04 L249.89,79.37 L250.93,78.78 L251.98,78.26 L253.02,77.82 L254.07,77.44 L255.12,77.14 L256.16,76.90 L257.21,76.73 L258.25,76.63 L259.30,76.60 L260.35,76.63 L261.39,76.73 L262.44,76.90 L263.48,77.14 L264.53,77.44 L265.57,77.82 L266.62,78.26 L267.67,78.78 L268.71,79.37 L269.76,80.04 L270.80,80.78 L271.85,81.61 L272.90,82.53 L273.94,83.54 L274.99,84.64 L276.03,85.85 L277.08,87.17 L278.12,88.62 L279.17,90.22 L280.22,91.99 L281.26,93.97 L282.31,96.25 L283.35,98.99 L284.40,103.40 Z" fill="url(#dome)"/>
<rect x="206.5" y="103.4" width="105.5" height="11.0" fill="url(#slab)"/>
<rect x="206.5" y="103.2" width="105.5" height="3" fill="url(#ztop)" opacity="0.8"/>
<g fill="#9e2424"><g transform="translate(226.5 96.1) rotate(156)"><circle cx="-0.9" cy="0" r="1.08"/><circle cx="0.9" cy="0" r="1.08"/></g><g transform="translate(295.8 101.6) rotate(48)"><circle cx="-0.9" cy="0" r="1.08"/><circle cx="0.9" cy="0" r="1.08"/></g><g transform="translate(293.7 90.1) rotate(135)"><circle cx="-0.9" cy="0" r="1.08"/><circle cx="0.9" cy="0" r="1.08"/></g><g transform="translate(232.1 84.8) rotate(148)"><circle cx="-0.9" cy="0" r="1.08"/><circle cx="0.9" cy="0" r="1.08"/></g><g transform="translate(293.1 97.4) rotate(51)"><circle cx="-0.9" cy="0" r="1.08"/><circle cx="0.9" cy="0" r="1.08"/></g><g transform="translate(302.0 102.0) rotate(60)"><circle cx="-0.9" cy="0" r="1.08"/><circle cx="0.9" cy="0" r="1.08"/></g><g transform="translate(223.5 89.7) rotate(87)"><circle cx="-0.9" cy="0" r="1.08"/><circle cx="0.9" cy="0" r="1.08"/></g><g transform="translate(279.2 87.1) rotate(160)"><circle cx="-0.9" cy="0" r="1.08"/><circle cx="0.9" cy="0" r="1.08"/></g><g transform="translate(216.4 84.8) rotate(29)"><circle cx="-0.9" cy="0" r="1.08"/><circle cx="0.9" cy="0" r="1.08"/></g><g transform="translate(282.9 84.1) rotate(123)"><circle cx="-0.9" cy="0" r="1.08"/><circle cx="0.9" cy="0" r="1.08"/></g><g transform="translate(301.9 87.1) rotate(108)"><circle cx="-0.9" cy="0" r="1.08"/><circle cx="0.9" cy="0" r="1.08"/></g><g transform="translate(227.5 85.6) rotate(82)"><circle cx="-0.9" cy="0" r="1.08"/><circle cx="0.9" cy="0" r="1.08"/></g><g transform="translate(309.0 101.3) rotate(104)"><circle cx="-0.9" cy="0" r="1.08"/><circle cx="0.9" cy="0" r="1.08"/></g><g transform="translate(308.0 95.8) rotate(159)"><circle cx="-0.9" cy="0" r="1.08"/><circle cx="0.9" cy="0" r="1.08"/></g><g transform="translate(292.2 85.1) rotate(38)"><circle cx="-0.9" cy="0" r="1.08"/><circle cx="0.9" cy="0" r="1.08"/></g><g transform="translate(209.9 87.6) rotate(159)"><circle cx="-0.9" cy="0" r="1.08"/><circle cx="0.9" cy="0" r="1.08"/></g><g transform="translate(215.9 96.5) rotate(65)"><circle cx="-0.9" cy="0" r="1.08"/><circle cx="0.9" cy="0" r="1.08"/></g><g transform="translate(300.4 94.4) rotate(140)"><circle cx="-0.9" cy="0" r="1.08"/><circle cx="0.9" cy="0" r="1.08"/></g><g transform="translate(218.8 100.4) rotate(155)"><circle cx="-0.9" cy="0" r="1.08"/><circle cx="0.9" cy="0" r="1.08"/></g><g transform="translate(231.9 91.1) rotate(33)"><circle cx="-0.9" cy="0" r="1.08"/><circle cx="0.9" cy="0" r="1.08"/></g><g transform="translate(208.6 95.3) rotate(156)"><circle cx="-0.9" cy="0" r="1.08"/><circle cx="0.9" cy="0" r="1.08"/></g><g transform="translate(306.6 84.3) rotate(179)"><circle cx="-0.9" cy="0" r="1.08"/><circle cx="0.9" cy="0" r="1.08"/></g><g transform="translate(215.0 90.3) rotate(54)"><circle cx="-0.9" cy="0" r="1.08"/><circle cx="0.9" cy="0" r="1.08"/></g><g transform="translate(229.7 101.0) rotate(4)"><circle cx="-0.9" cy="0" r="1.08"/><circle cx="0.9" cy="0" r="1.08"/></g><g transform="translate(284.7 93.7) rotate(20)"><circle cx="-0.9" cy="0" r="1.08"/><circle cx="0.9" cy="0" r="1.08"/></g><g transform="translate(207.8 100.5) rotate(175)"><circle cx="-0.9" cy="0" r="1.08"/><circle cx="0.9" cy="0" r="1.08"/></g><g transform="translate(305.4 90.5) rotate(2)"><circle cx="-0.9" cy="0" r="1.08"/><circle cx="0.9" cy="0" r="1.08"/></g><g transform="translate(287.6 85.7) rotate(164)"><circle cx="-0.9" cy="0" r="1.08"/><circle cx="0.9" cy="0" r="1.08"/></g><g transform="translate(310.9 88.3) rotate(27)"><circle cx="-0.9" cy="0" r="1.08"/><circle cx="0.9" cy="0" r="1.08"/></g><g transform="translate(223.5 100.4) rotate(132)"><circle cx="-0.9" cy="0" r="1.08"/><circle cx="0.9" cy="0" r="1.08"/></g></g>
<g fill="#9e2424"><g transform="translate(217.2 62.4) rotate(165)"><circle cx="-0.9" cy="0" r="1.08"/><circle cx="0.9" cy="0" r="1.08"/></g><g transform="translate(278.7 60.3) rotate(63)"><circle cx="-0.9" cy="0" r="1.08"/><circle cx="0.9" cy="0" r="1.08"/></g><g transform="translate(242.7 81.9) rotate(39)"><circle cx="-0.9" cy="0" r="1.08"/><circle cx="0.9" cy="0" r="1.08"/></g><g transform="translate(282.2 80.9) rotate(174)"><circle cx="-0.9" cy="0" r="1.08"/><circle cx="0.9" cy="0" r="1.08"/></g><g transform="translate(309.9 58.9) rotate(159)"><circle cx="-0.9" cy="0" r="1.08"/><circle cx="0.9" cy="0" r="1.08"/></g><g transform="translate(231.6 78.6) rotate(132)"><circle cx="-0.9" cy="0" r="1.08"/><circle cx="0.9" cy="0" r="1.08"/></g><g transform="translate(260.0 64.0) rotate(49)"><circle cx="-0.9" cy="0" r="1.08"/><circle cx="0.9" cy="0" r="1.08"/></g><g transform="translate(252.2 60.7) rotate(32)"><circle cx="-0.9" cy="0" r="1.08"/><circle cx="0.9" cy="0" r="1.08"/></g><g transform="translate(209.1 83.8) rotate(48)"><circle cx="-0.9" cy="0" r="1.08"/><circle cx="0.9" cy="0" r="1.08"/></g><g transform="translate(219.6 70.7) rotate(12)"><circle cx="-0.9" cy="0" r="1.08"/><circle cx="0.9" cy="0" r="1.08"/></g><g transform="translate(225.8 75.8) rotate(8)"><circle cx="-0.9" cy="0" r="1.08"/><circle cx="0.9" cy="0" r="1.08"/></g><g transform="translate(244.1 70.9) rotate(92)"><circle cx="-0.9" cy="0" r="1.08"/><circle cx="0.9" cy="0" r="1.08"/></g></g>
<g fill="#9e2424"><g transform="translate(251.7 48.2) rotate(157)"><circle cx="-0.9" cy="0" r="1.08"/><circle cx="0.9" cy="0" r="1.08"/></g><g transform="translate(247.6 36.2) rotate(129)"><circle cx="-0.9" cy="0" r="1.08"/><circle cx="0.9" cy="0" r="1.08"/></g><g transform="translate(276.9 50.4) rotate(72)"><circle cx="-0.9" cy="0" r="1.08"/><circle cx="0.9" cy="0" r="1.08"/></g><g transform="translate(264.0 48.1) rotate(57)"><circle cx="-0.9" cy="0" r="1.08"/><circle cx="0.9" cy="0" r="1.08"/></g><g transform="translate(277.1 57.6) rotate(75)"><circle cx="-0.9" cy="0" r="1.08"/><circle cx="0.9" cy="0" r="1.08"/></g></g>
<g fill="#6a84c0"><circle cx="253.5" cy="87.6" r="1.1"/><circle cx="264.9" cy="86.7" r="1.1"/><circle cx="240.0" cy="99.2" r="1.1"/><circle cx="273.6" cy="100.9" r="1.1"/><circle cx="250.5" cy="93.9" r="1.1"/></g>
<path d="M221.50,188.40 L223.02,181.83 L224.54,177.77 L226.06,174.44 L227.58,171.55 L229.10,169.00 L230.62,166.72 L232.15,164.67 L233.67,162.82 L235.19,161.14 L236.71,159.63 L238.23,158.28 L239.75,157.06 L241.27,155.97 L242.79,155.01 L244.31,154.17 L245.83,153.43 L247.35,152.81 L248.88,152.28 L250.40,151.86 L251.92,151.52 L253.44,151.28 L254.96,151.11 L256.48,151.02 L258.00,151.00 L259.52,151.02 L261.04,151.11 L262.56,151.28 L264.08,151.52 L265.60,151.86 L267.12,152.28 L268.65,152.81 L270.17,153.43 L271.69,154.17 L273.21,155.01 L274.73,155.97 L276.25,157.06 L277.77,158.28 L279.29,159.63 L280.81,161.14 L282.33,162.82 L283.85,164.67 L285.38,166.72 L286.90,169.00 L288.42,171.55 L289.94,174.44 L291.46,177.77 L292.98,181.83 L294.50,188.40 Z" fill="url(#dome)"/>
<rect x="206.5" y="188.4" width="105.5" height="11.0" fill="url(#slab)"/>
<rect x="206.5" y="188.20000000000002" width="105.5" height="3" fill="url(#ztop)" opacity="0.8"/>
<g fill="#9e2424"><g transform="translate(309.0 165.0) rotate(61)"><circle cx="-0.9" cy="0" r="1.08"/><circle cx="0.9" cy="0" r="1.08"/></g><g transform="translate(311.4 170.4) rotate(148)"><circle cx="-0.9" cy="0" r="1.08"/><circle cx="0.9" cy="0" r="1.08"/></g><g transform="translate(302.4 175.9) rotate(62)"><circle cx="-0.9" cy="0" r="1.08"/><circle cx="0.9" cy="0" r="1.08"/></g><g transform="translate(293.3 175.6) rotate(152)"><circle cx="-0.9" cy="0" r="1.08"/><circle cx="0.9" cy="0" r="1.08"/></g><g transform="translate(300.9 185.0) rotate(153)"><circle cx="-0.9" cy="0" r="1.08"/><circle cx="0.9" cy="0" r="1.08"/></g><g transform="translate(211.5 173.8) rotate(158)"><circle cx="-0.9" cy="0" r="1.08"/><circle cx="0.9" cy="0" r="1.08"/></g><g transform="translate(219.9 168.5) rotate(25)"><circle cx="-0.9" cy="0" r="1.08"/><circle cx="0.9" cy="0" r="1.08"/></g><g transform="translate(216.2 174.1) rotate(169)"><circle cx="-0.9" cy="0" r="1.08"/><circle cx="0.9" cy="0" r="1.08"/></g><g transform="translate(311.7 181.0) rotate(134)"><circle cx="-0.9" cy="0" r="1.08"/><circle cx="0.9" cy="0" r="1.08"/></g><g transform="translate(208.9 169.6) rotate(122)"><circle cx="-0.9" cy="0" r="1.08"/><circle cx="0.9" cy="0" r="1.08"/></g><g transform="translate(216.6 179.6) rotate(117)"><circle cx="-0.9" cy="0" r="1.08"/><circle cx="0.9" cy="0" r="1.08"/></g><g transform="translate(297.2 169.6) rotate(9)"><circle cx="-0.9" cy="0" r="1.08"/><circle cx="0.9" cy="0" r="1.08"/></g><g transform="translate(286.5 165.6) rotate(157)"><circle cx="-0.9" cy="0" r="1.08"/><circle cx="0.9" cy="0" r="1.08"/></g><g transform="translate(211.3 180.6) rotate(99)"><circle cx="-0.9" cy="0" r="1.08"/><circle cx="0.9" cy="0" r="1.08"/></g><g transform="translate(292.8 167.3) rotate(82)"><circle cx="-0.9" cy="0" r="1.08"/><circle cx="0.9" cy="0" r="1.08"/></g><g transform="translate(222.3 172.7) rotate(61)"><circle cx="-0.9" cy="0" r="1.08"/><circle cx="0.9" cy="0" r="1.08"/></g><g transform="translate(290.6 171.7) rotate(141)"><circle cx="-0.9" cy="0" r="1.08"/><circle cx="0.9" cy="0" r="1.08"/></g><g transform="translate(306.8 174.5) rotate(141)"><circle cx="-0.9" cy="0" r="1.08"/><circle cx="0.9" cy="0" r="1.08"/></g><g transform="translate(219.0 184.1) rotate(157)"><circle cx="-0.9" cy="0" r="1.08"/><circle cx="0.9" cy="0" r="1.08"/></g><g transform="translate(311.6 186.6) rotate(39)"><circle cx="-0.9" cy="0" r="1.08"/><circle cx="0.9" cy="0" r="1.08"/></g><g transform="translate(297.7 178.7) rotate(61)"><circle cx="-0.9" cy="0" r="1.08"/><circle cx="0.9" cy="0" r="1.08"/></g><g transform="translate(306.2 180.1) rotate(45)"><circle cx="-0.9" cy="0" r="1.08"/><circle cx="0.9" cy="0" r="1.08"/></g><g transform="translate(295.4 185.1) rotate(18)"><circle cx="-0.9" cy="0" r="1.08"/><circle cx="0.9" cy="0" r="1.08"/></g><g transform="translate(300.5 165.3) rotate(59)"><circle cx="-0.9" cy="0" r="1.08"/><circle cx="0.9" cy="0" r="1.08"/></g><g transform="translate(208.1 186.6) rotate(5)"><circle cx="-0.9" cy="0" r="1.08"/><circle cx="0.9" cy="0" r="1.08"/></g><g transform="translate(305.4 185.8) rotate(143)"><circle cx="-0.9" cy="0" r="1.08"/><circle cx="0.9" cy="0" r="1.08"/></g><g transform="translate(228.6 165.3) rotate(41)"><circle cx="-0.9" cy="0" r="1.08"/><circle cx="0.9" cy="0" r="1.08"/></g><g transform="translate(304.7 170.1) rotate(13)"><circle cx="-0.9" cy="0" r="1.08"/><circle cx="0.9" cy="0" r="1.08"/></g><g transform="translate(213.7 166.5) rotate(12)"><circle cx="-0.9" cy="0" r="1.08"/><circle cx="0.9" cy="0" r="1.08"/></g><g transform="translate(221.0 177.4) rotate(133)"><circle cx="-0.9" cy="0" r="1.08"/><circle cx="0.9" cy="0" r="1.08"/></g></g>
<g fill="#9e2424"><g transform="translate(230.2 151.6) rotate(64)"><circle cx="-0.9" cy="0" r="1.08"/><circle cx="0.9" cy="0" r="1.08"/></g><g transform="translate(307.3 147.7) rotate(40)"><circle cx="-0.9" cy="0" r="1.08"/><circle cx="0.9" cy="0" r="1.08"/></g><g transform="translate(284.8 147.8) rotate(134)"><circle cx="-0.9" cy="0" r="1.08"/><circle cx="0.9" cy="0" r="1.08"/></g><g transform="translate(299.1 154.3) rotate(144)"><circle cx="-0.9" cy="0" r="1.08"/><circle cx="0.9" cy="0" r="1.08"/></g><g transform="translate(220.8 154.7) rotate(39)"><circle cx="-0.9" cy="0" r="1.08"/><circle cx="0.9" cy="0" r="1.08"/></g><g transform="translate(294.6 153.0) rotate(159)"><circle cx="-0.9" cy="0" r="1.08"/><circle cx="0.9" cy="0" r="1.08"/></g><g transform="translate(281.0 143.1) rotate(179)"><circle cx="-0.9" cy="0" r="1.08"/><circle cx="0.9" cy="0" r="1.08"/></g><g transform="translate(303.3 140.9) rotate(78)"><circle cx="-0.9" cy="0" r="1.08"/><circle cx="0.9" cy="0" r="1.08"/></g><g transform="translate(270.3 150.8) rotate(69)"><circle cx="-0.9" cy="0" r="1.08"/><circle cx="0.9" cy="0" r="1.08"/></g><g transform="translate(293.7 159.7) rotate(128)"><circle cx="-0.9" cy="0" r="1.08"/><circle cx="0.9" cy="0" r="1.08"/></g></g>
<g fill="#9e2424"><g transform="translate(305.9 125.6) rotate(98)"><circle cx="-0.9" cy="0" r="1.08"/><circle cx="0.9" cy="0" r="1.08"/></g><g transform="translate(251.3 127.9) rotate(90)"><circle cx="-0.9" cy="0" r="1.08"/><circle cx="0.9" cy="0" r="1.08"/></g><g transform="translate(288.7 125.4) rotate(120)"><circle cx="-0.9" cy="0" r="1.08"/><circle cx="0.9" cy="0" r="1.08"/></g></g>
<g fill="#6a84c0"><circle cx="232.0" cy="186.8" r="1.1"/><circle cx="276.9" cy="183.5" r="1.1"/><circle cx="247.9" cy="185.6" r="1.1"/><circle cx="258.2" cy="184.6" r="1.1"/><circle cx="287.2" cy="186.7" r="1.1"/><circle cx="258.8" cy="185.9" r="1.1"/><circle cx="262.4" cy="156.4" r="1.1"/><circle cx="267.6" cy="181.0" r="1.1"/><circle cx="252.4" cy="173.5" r="1.1"/><circle cx="240.4" cy="161.3" r="1.1"/><circle cx="252.2" cy="170.2" r="1.1"/><circle cx="255.7" cy="154.5" r="1.1"/></g>
<path d="M214.20,274.80 L216.08,262.28 L217.96,256.25 L219.84,251.68 L221.73,247.97 L223.61,244.86 L225.49,242.20 L227.37,239.92 L229.25,237.95 L231.13,236.24 L233.01,234.77 L234.89,233.51 L236.78,232.43 L238.66,231.51 L240.54,230.75 L242.42,230.11 L244.30,229.60 L246.18,229.19 L248.06,228.88 L249.94,228.65 L251.83,228.49 L253.71,228.38 L255.59,228.33 L257.47,228.30 L259.35,228.30 L261.23,228.30 L263.11,228.33 L264.99,228.38 L266.88,228.49 L268.76,228.65 L270.64,228.88 L272.52,229.19 L274.40,229.60 L276.28,230.11 L278.16,230.75 L280.04,231.51 L281.93,232.43 L283.81,233.51 L285.69,234.77 L287.57,236.24 L289.45,237.95 L291.33,239.92 L293.21,242.20 L295.09,244.86 L296.98,247.97 L298.86,251.68 L300.74,256.25 L302.62,262.28 L304.50,274.80 Z" fill="url(#dome)"/>
<rect x="206.5" y="274.8" width="105.5" height="11.0" fill="url(#slab)"/>
<rect x="206.5" y="274.6" width="105.5" height="3" fill="url(#ztop)" opacity="0.8"/>
<g fill="#9e2424"><g transform="translate(210.6 254.9) rotate(86)"><circle cx="-0.9" cy="0" r="1.08"/><circle cx="0.9" cy="0" r="1.08"/></g><g transform="translate(304.4 246.5) rotate(60)"><circle cx="-0.9" cy="0" r="1.08"/><circle cx="0.9" cy="0" r="1.08"/></g><g transform="translate(306.3 257.8) rotate(70)"><circle cx="-0.9" cy="0" r="1.08"/><circle cx="0.9" cy="0" r="1.08"/></g><g transform="translate(218.8 247.0) rotate(110)"><circle cx="-0.9" cy="0" r="1.08"/><circle cx="0.9" cy="0" r="1.08"/></g><g transform="translate(304.8 263.5) rotate(141)"><circle cx="-0.9" cy="0" r="1.08"/><circle cx="0.9" cy="0" r="1.08"/></g></g>
<g fill="#9e2424"><g transform="translate(271.6 213.5) rotate(70)"><circle cx="-0.9" cy="0" r="1.08"/><circle cx="0.9" cy="0" r="1.08"/></g></g>
<g fill="#6a84c0"><circle cx="247.0" cy="270.8" r="1.1"/><circle cx="262.9" cy="241.1" r="1.1"/><circle cx="244.2" cy="266.5" r="1.1"/><circle cx="228.7" cy="260.4" r="1.1"/><circle cx="219.6" cy="265.8" r="1.1"/><circle cx="280.4" cy="261.8" r="1.1"/><circle cx="296.4" cy="272.3" r="1.1"/><circle cx="263.9" cy="271.2" r="1.1"/><circle cx="222.3" cy="271.3" r="1.1"/><circle cx="253.4" cy="237.3" r="1.1"/><circle cx="281.7" cy="268.2" r="1.1"/><circle cx="249.0" cy="232.6" r="1.1"/><circle cx="293.0" cy="263.3" r="1.1"/><circle cx="268.1" cy="273.7" r="1.1"/><circle cx="278.2" cy="257.6" r="1.1"/><circle cx="230.5" cy="256.6" r="1.1"/><circle cx="274.9" cy="273.4" r="1.1"/><circle cx="253.4" cy="246.5" r="1.1"/><circle cx="237.1" cy="239.1" r="1.1"/><circle cx="277.9" cy="236.4" r="1.1"/><circle cx="245.9" cy="262.6" r="1.1"/><circle cx="253.9" cy="265.1" r="1.1"/></g>
<path d="M382.70,104.30 L383.63,97.82 L384.56,94.63 L385.49,92.16 L386.42,90.10 L387.35,88.33 L388.27,86.78 L389.20,85.41 L390.13,84.19 L391.06,83.10 L391.99,82.12 L392.92,81.25 L393.85,80.48 L394.78,79.79 L395.71,79.19 L396.64,78.66 L397.57,78.20 L398.50,77.82 L399.43,77.49 L400.35,77.23 L401.28,77.02 L402.21,76.87 L403.14,76.77 L404.07,76.72 L405.00,76.70 L405.93,76.72 L406.86,76.77 L407.79,76.87 L408.72,77.02 L409.65,77.23 L410.57,77.49 L411.50,77.82 L412.43,78.20 L413.36,78.66 L414.29,79.19 L415.22,79.79 L416.15,80.48 L417.08,81.25 L418.01,82.12 L418.94,83.10 L419.87,84.19 L420.80,85.41 L421.73,86.78 L422.65,88.33 L423.58,90.10 L424.51,92.16 L425.44,94.63 L426.37,97.82 L427.30,104.30 Z" fill="url(#domec)"/>
<rect x="351.8" y="104.3" width="107.4" height="11.3" fill="url(#slab)"/>
<rect x="351.8" y="104.1" width="107.4" height="3" fill="url(#ztop)" opacity="0.9"/>
<g fill="#f2d8d8"><circle cx="415.8" cy="72.7" r="0.7"/><circle cx="453.4" cy="85.4" r="0.7"/><circle cx="386.4" cy="68.0" r="0.7"/><circle cx="461.0" cy="107.4" r="0.7"/><circle cx="457.5" cy="82.0" r="0.7"/><circle cx="362.5" cy="49.2" r="0.7"/><circle cx="392.1" cy="93.0" r="0.7"/><circle cx="345.6" cy="102.5" r="0.7"/><circle cx="441.7" cy="78.1" r="0.7"/><circle cx="345.7" cy="102.1" r="0.7"/><circle cx="395.9" cy="91.2" r="0.7"/><circle cx="415.1" cy="96.2" r="0.7"/><circle cx="395.3" cy="115.9" r="0.7"/><circle cx="462.5" cy="113.3" r="0.7"/><circle cx="420.7" cy="61.2" r="0.7"/><circle cx="391.3" cy="57.2" r="0.7"/><circle cx="456.2" cy="101.6" r="0.7"/><circle cx="441.9" cy="104.1" r="0.7"/><circle cx="466.9" cy="92.8" r="0.7"/><circle cx="384.1" cy="98.7" r="0.7"/><circle cx="377.3" cy="86.2" r="0.7"/><circle cx="364.5" cy="107.2" r="0.7"/><circle cx="405.1" cy="57.7" r="0.7"/><circle cx="458.5" cy="41.4" r="0.7"/><circle cx="459.4" cy="98.6" r="0.7"/><circle cx="363.3" cy="99.0" r="0.7"/><circle cx="415.5" cy="111.4" r="0.7"/><circle cx="417.1" cy="70.6" r="0.7"/><circle cx="459.8" cy="41.7" r="0.7"/><circle cx="440.6" cy="43.0" r="0.7"/><circle cx="379.0" cy="44.0" r="0.7"/><circle cx="452.2" cy="71.9" r="0.7"/><circle cx="434.3" cy="56.1" r="0.7"/><circle cx="434.8" cy="89.4" r="0.7"/><circle cx="357.0" cy="76.3" r="0.7"/><circle cx="433.8" cy="52.5" r="0.7"/><circle cx="425.5" cy="57.9" r="0.7"/><circle cx="390.6" cy="112.5" r="0.7"/><circle cx="461.0" cy="119.1" r="0.7"/><circle cx="397.5" cy="82.9" r="0.7"/></g>
<g fill="#536ec0"><circle cx="391.2" cy="80.2" r="1.2"/><circle cx="391.5" cy="82.5" r="1.2"/><circle cx="406.6" cy="79" r="1.2"/><circle cx="406.6" cy="81.5" r="1.2"/><circle cx="406.6" cy="85" r="1.2"/><circle cx="415.9" cy="75.6" r="1.2"/><circle cx="376.5" cy="92" r="1.2"/><circle cx="378.5" cy="95" r="1.2"/><circle cx="379.5" cy="97" r="1.2"/><circle cx="385" cy="96.4" r="1.2"/><circle cx="387" cy="97" r="1.2"/><circle cx="389" cy="97.5" r="1.2"/><circle cx="406.6" cy="96.3" r="1.2"/></g>
<path d="M366.60,188.30 L368.14,179.02 L369.68,174.68 L371.23,171.39 L372.77,168.70 L374.31,166.43 L375.85,164.47 L377.39,162.77 L378.93,161.28 L380.48,159.97 L382.02,158.82 L383.56,157.82 L385.10,156.94 L386.64,156.19 L388.18,155.54 L389.73,154.99 L391.27,154.52 L392.81,154.14 L394.35,153.84 L395.89,153.60 L397.43,153.43 L398.98,153.31 L400.52,153.24 L402.06,153.21 L403.60,153.20 L405.14,153.21 L406.68,153.24 L408.23,153.31 L409.77,153.43 L411.31,153.60 L412.85,153.84 L414.39,154.14 L415.93,154.52 L417.48,154.99 L419.02,155.54 L420.56,156.19 L422.10,156.94 L423.64,157.82 L425.18,158.82 L426.73,159.97 L428.27,161.28 L429.81,162.77 L431.35,164.47 L432.89,166.43 L434.43,168.70 L435.98,171.39 L437.52,174.68 L439.06,179.02 L440.60,188.30 Z" fill="url(#domec)"/>
<rect x="351.8" y="188.3" width="107.4" height="12.3" fill="url(#slab)"/>
<rect x="351.8" y="188.10000000000002" width="107.4" height="3" fill="url(#ztop)" opacity="0.9"/>
<g fill="#f2d8d8"><circle cx="444.4" cy="182.8" r="0.7"/><circle cx="401.1" cy="191.7" r="0.7"/><circle cx="394.4" cy="199.1" r="0.7"/><circle cx="403.2" cy="128.4" r="0.7"/><circle cx="437.1" cy="130.6" r="0.7"/><circle cx="428.6" cy="122.8" r="0.7"/><circle cx="466.6" cy="164.3" r="0.7"/><circle cx="436.1" cy="129.4" r="0.7"/><circle cx="423.3" cy="150.3" r="0.7"/><circle cx="375.6" cy="187.6" r="0.7"/><circle cx="349.1" cy="158.9" r="0.7"/><circle cx="355.7" cy="190.7" r="0.7"/><circle cx="454.9" cy="121.2" r="0.7"/><circle cx="402.1" cy="158.2" r="0.7"/><circle cx="433.4" cy="180.3" r="0.7"/><circle cx="387.2" cy="197.6" r="0.7"/><circle cx="367.8" cy="129.9" r="0.7"/><circle cx="445.2" cy="128.5" r="0.7"/><circle cx="367.9" cy="160.8" r="0.7"/><circle cx="386.4" cy="132.2" r="0.7"/><circle cx="459.4" cy="158.6" r="0.7"/><circle cx="441.7" cy="139.6" r="0.7"/><circle cx="457.3" cy="137.1" r="0.7"/><circle cx="456.5" cy="170.4" r="0.7"/><circle cx="464.4" cy="183.8" r="0.7"/><circle cx="422.6" cy="163.6" r="0.7"/><circle cx="450.1" cy="156.0" r="0.7"/><circle cx="357.1" cy="196.0" r="0.7"/><circle cx="444.1" cy="176.3" r="0.7"/><circle cx="436.6" cy="138.0" r="0.7"/><circle cx="402.0" cy="188.2" r="0.7"/><circle cx="463.3" cy="196.8" r="0.7"/><circle cx="364.7" cy="176.4" r="0.7"/><circle cx="413.2" cy="152.7" r="0.7"/><circle cx="365.6" cy="130.0" r="0.7"/><circle cx="402.8" cy="160.2" r="0.7"/><circle cx="377.9" cy="149.6" r="0.7"/><circle cx="413.1" cy="183.1" r="0.7"/><circle cx="417.5" cy="132.1" r="0.7"/><circle cx="454.0" cy="149.6" r="0.7"/></g>
<g fill="#536ec0"><circle cx="381" cy="142" r="1.2"/><circle cx="360" cy="160" r="1.2"/><circle cx="361" cy="162" r="1.2"/><circle cx="381" cy="161" r="1.2"/><circle cx="383" cy="161.5" r="1.2"/><circle cx="393" cy="163" r="1.2"/><circle cx="409" cy="156" r="1.2"/><circle cx="430" cy="155" r="1.2"/><circle cx="432" cy="158" r="1.2"/><circle cx="428" cy="162" r="1.2"/><circle cx="433" cy="170" r="1.2"/><circle cx="434" cy="173" r="1.2"/><circle cx="435" cy="165" r="1.2"/><circle cx="445" cy="158" r="1.2"/><circle cx="448" cy="156" r="1.2"/><circle cx="390" cy="172" r="1.2"/><circle cx="392" cy="175" r="1.2"/><circle cx="396" cy="176" r="1.2"/><circle cx="398" cy="175" r="1.2"/><circle cx="400" cy="177" r="1.2"/><circle cx="401" cy="181" r="1.2"/><circle cx="403" cy="180" r="1.2"/><circle cx="406" cy="181" r="1.2"/><circle cx="380" cy="182" r="1.2"/><circle cx="382" cy="183" r="1.2"/><circle cx="417" cy="177" r="1.2"/><circle cx="428" cy="178" r="1.2"/><circle cx="432" cy="182" r="1.2"/><circle cx="434" cy="182" r="1.2"/><circle cx="443" cy="182" r="1.2"/><circle cx="446" cy="182" r="1.2"/></g>
<path d="M360.00,274.00 L361.80,260.70 L363.60,254.89 L365.39,250.57 L367.19,247.08 L368.99,244.16 L370.79,241.67 L372.59,239.52 L374.38,237.66 L376.18,236.03 L377.98,234.62 L379.78,233.40 L381.57,232.34 L383.37,231.43 L385.17,230.66 L386.97,230.01 L388.77,229.47 L390.56,229.04 L392.36,228.69 L394.16,228.43 L395.96,228.24 L397.76,228.11 L399.55,228.04 L401.35,228.01 L403.15,228.00 L404.95,228.01 L406.75,228.04 L408.54,228.11 L410.34,228.24 L412.14,228.43 L413.94,228.69 L415.74,229.04 L417.53,229.47 L419.33,230.01 L421.13,230.66 L422.93,231.43 L424.72,232.34 L426.52,233.40 L428.32,234.62 L430.12,236.03 L431.92,237.66 L433.71,239.52 L435.51,241.67 L437.31,244.16 L439.11,247.08 L440.91,250.57 L442.70,254.89 L444.50,260.70 L446.30,274.00 Z" fill="url(#domec)"/>
<rect x="351.8" y="274.0" width="107.4" height="11.4" fill="url(#slab)"/>
<rect x="351.8" y="273.8" width="107.4" height="3" fill="url(#ztop)" opacity="0.9"/>
<g fill="#f2d8d8"><circle cx="463.1" cy="287.4" r="0.7"/><circle cx="362.3" cy="253.5" r="0.7"/><circle cx="463.9" cy="236.7" r="0.7"/><circle cx="412.3" cy="230.7" r="0.7"/><circle cx="348.5" cy="221.4" r="0.7"/><circle cx="360.3" cy="228.2" r="0.7"/><circle cx="422.4" cy="251.9" r="0.7"/><circle cx="461.6" cy="262.3" r="0.7"/><circle cx="389.6" cy="284.7" r="0.7"/><circle cx="423.0" cy="250.2" r="0.7"/><circle cx="451.1" cy="260.9" r="0.7"/><circle cx="389.3" cy="255.4" r="0.7"/><circle cx="381.9" cy="286.4" r="0.7"/><circle cx="375.0" cy="286.7" r="0.7"/><circle cx="352.9" cy="204.8" r="0.7"/><circle cx="413.0" cy="221.5" r="0.7"/><circle cx="407.4" cy="214.0" r="0.7"/><circle cx="447.9" cy="260.9" r="0.7"/><circle cx="429.2" cy="282.8" r="0.7"/><circle cx="467.0" cy="261.6" r="0.7"/><circle cx="432.7" cy="204.2" r="0.7"/><circle cx="351.1" cy="240.3" r="0.7"/><circle cx="464.2" cy="230.6" r="0.7"/><circle cx="414.9" cy="204.8" r="0.7"/><circle cx="396.1" cy="280.7" r="0.7"/><circle cx="417.5" cy="274.1" r="0.7"/><circle cx="346.6" cy="221.2" r="0.7"/><circle cx="367.0" cy="274.7" r="0.7"/><circle cx="357.5" cy="283.2" r="0.7"/><circle cx="377.9" cy="278.8" r="0.7"/><circle cx="408.4" cy="231.5" r="0.7"/><circle cx="463.9" cy="238.4" r="0.7"/><circle cx="430.8" cy="209.7" r="0.7"/><circle cx="447.1" cy="287.4" r="0.7"/><circle cx="358.6" cy="267.4" r="0.7"/><circle cx="378.3" cy="216.6" r="0.7"/><circle cx="389.8" cy="260.3" r="0.7"/><circle cx="462.3" cy="288.5" r="0.7"/><circle cx="467.2" cy="257.0" r="0.7"/><circle cx="425.4" cy="217.7" r="0.7"/></g>
<g fill="#536ec0"><circle cx="396" cy="217" r="1.2"/><circle cx="399" cy="218" r="1.2"/><circle cx="361" cy="235" r="1.2"/><circle cx="409" cy="230" r="1.2"/><circle cx="414" cy="229" r="1.2"/><circle cx="406" cy="231" r="1.2"/><circle cx="410" cy="237" r="1.2"/><circle cx="391" cy="236" r="1.2"/><circle cx="394" cy="238" r="1.2"/><circle cx="402" cy="239" r="1.2"/><circle cx="402" cy="242" r="1.2"/><circle cx="422" cy="238" r="1.2"/><circle cx="430" cy="235" r="1.2"/><circle cx="432" cy="234" r="1.2"/><circle cx="442" cy="232" r="1.2"/><circle cx="440" cy="238" r="1.2"/><circle cx="394" cy="248" r="1.2"/><circle cx="383" cy="250" r="1.2"/><circle cx="369" cy="254" r="1.2"/><circle cx="370" cy="255" r="1.2"/><circle cx="372" cy="256" r="1.2"/><circle cx="425" cy="248" r="1.2"/><circle cx="427" cy="247" r="1.2"/><circle cx="430" cy="247" r="1.2"/><circle cx="434" cy="251" r="1.2"/><circle cx="437" cy="251" r="1.2"/><circle cx="442" cy="252" r="1.2"/><circle cx="445" cy="252" r="1.2"/><circle cx="438" cy="257" r="1.2"/><circle cx="358" cy="260" r="1.2"/><circle cx="363" cy="263" r="1.2"/><circle cx="402" cy="256" r="1.2"/><circle cx="403" cy="259" r="1.2"/><circle cx="405" cy="261" r="1.2"/><circle cx="406" cy="264" r="1.2"/><circle cx="365" cy="276" r="1.2"/><circle cx="369" cy="271" r="1.2"/><circle cx="385" cy="266" r="1.2"/><circle cx="386" cy="267" r="1.2"/><circle cx="364" cy="270" r="1.2"/><circle cx="441" cy="266" r="1.2"/><circle cx="444" cy="265" r="1.2"/><circle cx="446" cy="268" r="1.2"/><circle cx="442" cy="270" r="1.2"/><circle cx="366" cy="268" r="1.2"/><circle cx="367" cy="269" r="1.2"/></g>
<circle cx="38.2" cy="307.2" r="7.4" fill="url(#gPt)"/>
<text x="52.50" y="309.80" font-size="9.4" text-anchor="start" fill="#222" stroke="#222" stroke-width="0.1" >Pt</text>
<circle cx="96" cy="307" r="7.5" fill="url(#gAl)"/>
<text x="110.60" y="309.80" font-size="9.4" text-anchor="start" fill="#222" stroke="#222" stroke-width="0.1" >Al</text>
<circle cx="142.8" cy="307.1" r="6.1" fill="url(#gO)"/>
<circle cx="156" cy="307.1" r="6" fill="url(#gOl)"/>
<text x="166.40" y="309.80" font-size="9.4" text-anchor="start" fill="#222" stroke="#222" stroke-width="0.1" >O</text>
<circle cx="202.4" cy="307" r="9.3" fill="url(#gCe)"/>
<circle cx="222.1" cy="307" r="9.1" fill="url(#gCel)"/>
<text x="239.20" y="309.80" font-size="9.4" text-anchor="start" fill="#222" stroke="#222" stroke-width="0.1" >Ce</text>
<circle cx="275.2" cy="306.8" r="6" fill="url(#gB)"/>
<text x="286.80" y="309.80" font-size="9.4" text-anchor="start" fill="#222" stroke="#222" stroke-width="0.1" >O<tspan font-size="5.6" dy="1.8">activated</tspan></text>
<g fill="url(#gB)"><ellipse cx="357" cy="306" rx="5.8" ry="5.2"/><ellipse cx="363.5" cy="307.5" rx="5.5" ry="5.6"/><ellipse cx="372" cy="307.3" rx="6" ry="5.4"/><circle cx="366" cy="303.8" r="3.8"/></g>
<text x="384.20" y="309.80" font-size="9.4" text-anchor="start" fill="#222" stroke="#222" stroke-width="0.1" >O<tspan font-size="5.6" dy="1.8">transfer</tspan><tspan dy="-1.8"> trajectory</tspan></text>
<clipPath id="cp0"><rect x="529.5" y="34.2" width="136.89999999999998" height="88.1"/></clipPath>
<g clip-path="url(#cp0)">
<polygon points="529.5,122.3 529.50,122.30 536.35,107.52 543.19,98.74 550.03,94.12 556.88,87.65 563.73,93.42 570.57,95.04 577.41,87.65 584.26,83.03 591.11,86.26 597.95,84.88 604.79,85.57 611.64,85.57 618.49,85.34 625.33,89.04 632.17,87.19 639.02,80.26 645.87,85.80 652.71,88.57 659.55,83.49 666.40,86.26 666.4,122.3" fill="#f7e4e6"/>
<polygon points="529.5,122.3 529.50,122.30 536.35,103.82 543.19,94.12 550.03,93.66 556.88,88.11 563.73,92.04 570.57,88.57 577.41,88.11 584.26,88.57 591.11,90.88 597.95,89.50 604.79,91.81 611.64,92.73 618.49,89.50 625.33,92.73 632.17,93.66 639.02,90.88 645.87,90.42 652.71,94.58 659.55,93.66 666.40,91.35 666.4,122.3" fill="#e0929a"/>
<polyline points="529.50,122.30 536.35,107.52 543.19,98.74 550.03,94.12 556.88,87.65 563.73,93.42 570.57,95.04 577.41,87.65 584.26,83.03 591.11,86.26 597.95,84.88 604.79,85.57 611.64,85.57 618.49,85.34 625.33,89.04 632.17,87.19 639.02,80.26 645.87,85.80 652.71,88.57 659.55,83.49 666.40,86.26" fill="none" stroke="#d9646e" stroke-width="0.9"/>
<polyline points="529.50,122.30 536.35,103.82 543.19,94.12 550.03,93.66 556.88,88.11 563.73,92.04 570.57,88.57 577.41,88.11 584.26,88.57 591.11,90.88 597.95,89.50 604.79,91.81 611.64,92.73 618.49,89.50 625.33,92.73 632.17,93.66 639.02,90.88 645.87,90.42 652.71,94.58 659.55,93.66 666.40,91.35" fill="none" stroke="#d9646e" stroke-width="0.9"/>
<path d="M536.35 104.92V110.11M534.75 104.92H537.95M534.75 110.11H537.95" stroke="#d9646e" stroke-width="0.9" fill="none"/>
<circle cx="536.35" cy="107.52" r="2.55" fill="#ffffff" stroke="#d9646e" stroke-width="1.15"/>
<path d="M543.19 94.59V102.89M541.59 94.59H544.79M541.59 102.89H544.79" stroke="#d9646e" stroke-width="0.9" fill="none"/>
<circle cx="543.19" cy="98.74" r="2.55" fill="#ffffff" stroke="#d9646e" stroke-width="1.15"/>
<path d="M550.03 90.85V97.38M548.43 90.85H551.63M548.43 97.38H551.63" stroke="#d9646e" stroke-width="0.9" fill="none"/>
<circle cx="550.03" cy="94.12" r="2.55" fill="#ffffff" stroke="#d9646e" stroke-width="1.15"/>
<path d="M556.88 83.19V92.11M555.28 83.19H558.48M555.28 92.11H558.48" stroke="#d9646e" stroke-width="0.9" fill="none"/>
<circle cx="556.88" cy="87.65" r="2.55" fill="#ffffff" stroke="#d9646e" stroke-width="1.15"/>
<path d="M563.73 88.86V97.99M562.12 88.86H565.33M562.12 97.99H565.33" stroke="#d9646e" stroke-width="0.9" fill="none"/>
<circle cx="563.73" cy="93.42" r="2.55" fill="#ffffff" stroke="#d9646e" stroke-width="1.15"/>
<path d="M570.57 93.32V96.76M568.97 93.32H572.17M568.97 96.76H572.17" stroke="#d9646e" stroke-width="0.9" fill="none"/>
<circle cx="570.57" cy="95.04" r="2.55" fill="#ffffff" stroke="#d9646e" stroke-width="1.15"/>
<path d="M577.41 86.20V89.10M575.81 86.20H579.01M575.81 89.10H579.01" stroke="#d9646e" stroke-width="0.9" fill="none"/>
<circle cx="577.41" cy="87.65" r="2.55" fill="#ffffff" stroke="#d9646e" stroke-width="1.15"/>
<path d="M584.26 77.39V88.67M582.66 77.39H585.86M582.66 88.67H585.86" stroke="#d9646e" stroke-width="0.9" fill="none"/>
<circle cx="584.26" cy="83.03" r="2.55" fill="#ffffff" stroke="#d9646e" stroke-width="1.15"/>
<path d="M591.11 83.56V88.97M589.50 83.56H592.71M589.50 88.97H592.71" stroke="#d9646e" stroke-width="0.9" fill="none"/>
<circle cx="591.11" cy="86.26" r="2.55" fill="#ffffff" stroke="#d9646e" stroke-width="1.15"/>
<path d="M597.95 82.30V87.45M596.35 82.30H599.55M596.35 87.45H599.55" stroke="#d9646e" stroke-width="0.9" fill="none"/>
<circle cx="597.95" cy="84.88" r="2.55" fill="#ffffff" stroke="#d9646e" stroke-width="1.15"/>
<path d="M604.79 79.13V92.02M603.19 79.13H606.39M603.19 92.02H606.39" stroke="#d9646e" stroke-width="0.9" fill="none"/>
<circle cx="604.79" cy="85.57" r="2.55" fill="#ffffff" stroke="#d9646e" stroke-width="1.15"/>
<path d="M611.64 81.80V89.35M610.04 81.80H613.24M610.04 89.35H613.24" stroke="#d9646e" stroke-width="0.9" fill="none"/>
<circle cx="611.64" cy="85.57" r="2.55" fill="#ffffff" stroke="#d9646e" stroke-width="1.15"/>
<path d="M618.49 79.70V90.98M616.88 79.70H620.09M616.88 90.98H620.09" stroke="#d9646e" stroke-width="0.9" fill="none"/>
<circle cx="618.49" cy="85.34" r="2.55" fill="#ffffff" stroke="#d9646e" stroke-width="1.15"/>
<path d="M625.33 85.23V92.84M623.73 85.23H626.93M623.73 92.84H626.93" stroke="#d9646e" stroke-width="0.9" fill="none"/>
<circle cx="625.33" cy="89.04" r="2.55" fill="#ffffff" stroke="#d9646e" stroke-width="1.15"/>
<path d="M632.17 82.55V91.82M630.57 82.55H633.77M630.57 91.82H633.77" stroke="#d9646e" stroke-width="0.9" fill="none"/>
<circle cx="632.17" cy="87.19" r="2.55" fill="#ffffff" stroke="#d9646e" stroke-width="1.15"/>
<path d="M639.02 78.11V82.41M637.42 78.11H640.62M637.42 82.41H640.62" stroke="#d9646e" stroke-width="0.9" fill="none"/>
<circle cx="639.02" cy="80.26" r="2.55" fill="#ffffff" stroke="#d9646e" stroke-width="1.15"/>
<path d="M645.87 81.19V90.41M644.26 81.19H647.47M644.26 90.41H647.47" stroke="#d9646e" stroke-width="0.9" fill="none"/>
<circle cx="645.87" cy="85.80" r="2.55" fill="#ffffff" stroke="#d9646e" stroke-width="1.15"/>
<path d="M652.71 82.78V94.37M651.11 82.78H654.31M651.11 94.37H654.31" stroke="#d9646e" stroke-width="0.9" fill="none"/>
<circle cx="652.71" cy="88.57" r="2.55" fill="#ffffff" stroke="#d9646e" stroke-width="1.15"/>
<path d="M659.55 79.45V87.54M657.95 79.45H661.15M657.95 87.54H661.15" stroke="#d9646e" stroke-width="0.9" fill="none"/>
<circle cx="659.55" cy="83.49" r="2.55" fill="#ffffff" stroke="#d9646e" stroke-width="1.15"/>
<path d="M666.40 81.11V91.42M664.80 81.11H668.00M664.80 91.42H668.00" stroke="#d9646e" stroke-width="0.9" fill="none"/>
<circle cx="666.40" cy="86.26" r="2.55" fill="#ffffff" stroke="#d9646e" stroke-width="1.15"/>
<path d="M536.35 98.56V109.08M534.75 98.56H537.95M534.75 109.08H537.95" stroke="#d9646e" stroke-width="0.9" fill="none"/>
<circle cx="536.35" cy="103.82" r="2.9" fill="#d9646e"/>
<path d="M543.19 91.94V96.29M541.59 91.94H544.79M541.59 96.29H544.79" stroke="#d9646e" stroke-width="0.9" fill="none"/>
<circle cx="543.19" cy="94.12" r="2.9" fill="#d9646e"/>
<path d="M550.03 87.95V99.36M548.43 87.95H551.63M548.43 99.36H551.63" stroke="#d9646e" stroke-width="0.9" fill="none"/>
<circle cx="550.03" cy="93.66" r="2.9" fill="#d9646e"/>
<path d="M556.88 83.26V92.96M555.28 83.26H558.48M555.28 92.96H558.48" stroke="#d9646e" stroke-width="0.9" fill="none"/>
<circle cx="556.88" cy="88.11" r="2.9" fill="#d9646e"/>
<path d="M563.73 88.66V95.42M562.12 88.66H565.33M562.12 95.42H565.33" stroke="#d9646e" stroke-width="0.9" fill="none"/>
<circle cx="563.73" cy="92.04" r="2.9" fill="#d9646e"/>
<path d="M570.57 86.57V90.58M568.97 86.57H572.17M568.97 90.58H572.17" stroke="#d9646e" stroke-width="0.9" fill="none"/>
<circle cx="570.57" cy="88.57" r="2.9" fill="#d9646e"/>
<path d="M577.41 81.87V94.36M575.81 81.87H579.01M575.81 94.36H579.01" stroke="#d9646e" stroke-width="0.9" fill="none"/>
<circle cx="577.41" cy="88.11" r="2.9" fill="#d9646e"/>
<path d="M584.26 84.32V92.82M582.66 84.32H585.86M582.66 92.82H585.86" stroke="#d9646e" stroke-width="0.9" fill="none"/>
<circle cx="584.26" cy="88.57" r="2.9" fill="#d9646e"/>
<path d="M591.11 85.38V96.39M589.50 85.38H592.71M589.50 96.39H592.71" stroke="#d9646e" stroke-width="0.9" fill="none"/>
<circle cx="591.11" cy="90.88" r="2.9" fill="#d9646e"/>
<path d="M597.95 83.18V95.81M596.35 83.18H599.55M596.35 95.81H599.55" stroke="#d9646e" stroke-width="0.9" fill="none"/>
<circle cx="597.95" cy="89.50" r="2.9" fill="#d9646e"/>
<path d="M604.79 86.33V97.29M603.19 86.33H606.39M603.19 97.29H606.39" stroke="#d9646e" stroke-width="0.9" fill="none"/>
<circle cx="604.79" cy="91.81" r="2.9" fill="#d9646e"/>
<path d="M611.64 86.20V99.26M610.04 86.20H613.24M610.04 99.26H613.24" stroke="#d9646e" stroke-width="0.9" fill="none"/>
<circle cx="611.64" cy="92.73" r="2.9" fill="#d9646e"/>
<path d="M618.49 85.64V93.35M616.88 85.64H620.09M616.88 93.35H620.09" stroke="#d9646e" stroke-width="0.9" fill="none"/>
<circle cx="618.49" cy="89.50" r="2.9" fill="#d9646e"/>
<path d="M625.33 86.81V98.65M623.73 86.81H626.93M623.73 98.65H626.93" stroke="#d9646e" stroke-width="0.9" fill="none"/>
<circle cx="625.33" cy="92.73" r="2.9" fill="#d9646e"/>
<path d="M632.17 89.55V97.76M630.57 89.55H633.77M630.57 97.76H633.77" stroke="#d9646e" stroke-width="0.9" fill="none"/>
<circle cx="632.17" cy="93.66" r="2.9" fill="#d9646e"/>
<path d="M639.02 84.28V97.49M637.42 84.28H640.62M637.42 97.49H640.62" stroke="#d9646e" stroke-width="0.9" fill="none"/>
<circle cx="639.02" cy="90.88" r="2.9" fill="#d9646e"/>
<path d="M645.87 84.11V96.74M644.26 84.11H647.47M644.26 96.74H647.47" stroke="#d9646e" stroke-width="0.9" fill="none"/>
<circle cx="645.87" cy="90.42" r="2.9" fill="#d9646e"/>
<path d="M652.71 92.24V96.92M651.11 92.24H654.31M651.11 96.92H654.31" stroke="#d9646e" stroke-width="0.9" fill="none"/>
<circle cx="652.71" cy="94.58" r="2.9" fill="#d9646e"/>
<path d="M659.55 91.12V96.19M657.95 91.12H661.15M657.95 96.19H661.15" stroke="#d9646e" stroke-width="0.9" fill="none"/>
<circle cx="659.55" cy="93.66" r="2.9" fill="#d9646e"/>
<path d="M666.40 88.40V94.30M664.80 88.40H668.00M664.80 94.30H668.00" stroke="#d9646e" stroke-width="0.9" fill="none"/>
<circle cx="666.40" cy="91.35" r="2.9" fill="#d9646e"/>
</g>
<rect x="529.5" y="34.2" width="136.9" height="88.1" fill="none" stroke="#333333" stroke-width="1"/>
<line x1="526.70" y1="122.30" x2="529.50" y2="122.30" stroke="#555" stroke-width="0.8" />
<text x="525.00" y="125.25" font-size="7.55" text-anchor="end" fill="#222" stroke="#222" stroke-width="0.1" >0.0</text>
<line x1="526.70" y1="99.20" x2="529.50" y2="99.20" stroke="#555" stroke-width="0.8" />
<text x="525.00" y="102.15" font-size="7.55" text-anchor="end" fill="#222" stroke="#222" stroke-width="0.1" >1.0</text>
<line x1="526.70" y1="76.10" x2="529.50" y2="76.10" stroke="#555" stroke-width="0.8" />
<text x="525.00" y="79.05" font-size="7.55" text-anchor="end" fill="#222" stroke="#222" stroke-width="0.1" >2.0</text>
<line x1="526.70" y1="53.00" x2="529.50" y2="53.00" stroke="#555" stroke-width="0.8" />
<text x="525.00" y="55.95" font-size="7.55" text-anchor="end" fill="#222" stroke="#222" stroke-width="0.1" >3.0</text>
<line x1="529.50" y1="122.30" x2="529.50" y2="125.10" stroke="#555" stroke-width="0.8" />
<line x1="556.88" y1="122.30" x2="556.88" y2="125.10" stroke="#555" stroke-width="0.8" />
<line x1="584.26" y1="122.30" x2="584.26" y2="125.10" stroke="#555" stroke-width="0.8" />
<line x1="611.64" y1="122.30" x2="611.64" y2="125.10" stroke="#555" stroke-width="0.8" />
<line x1="639.02" y1="122.30" x2="639.02" y2="125.10" stroke="#555" stroke-width="0.8" />
<line x1="666.40" y1="122.30" x2="666.40" y2="125.10" stroke="#555" stroke-width="0.8" />
<text x="532.50" y="43.80" font-size="8.38" text-anchor="start" fill="#222" stroke="#222" stroke-width="0.1" >Total O<tspan font-size="6.3" dy="1.6">2</tspan><tspan dy="-1.6"> </tspan><tspan font-size="6.3" font-style="italic" dy="1.6">uptake</tspan><tspan dy="-1.6">=1.57 μmol/m</tspan><tspan font-size="6.3" dy="-3.2">2</tspan><tspan font-size="6.3" font-style="italic" dx="-3.5" dy="5.4">ceria</tspan></text>
<text x="669.80" y="89.20" font-size="7.55" text-anchor="start" fill="#d9646e" stroke="#d9646e" stroke-width="0.1" >0.23</text>
<text x="669.80" y="107.60" font-size="7.55" text-anchor="start" fill="#d9646e" stroke="#d9646e" stroke-width="0.1" >1.34</text>
<clipPath id="cp1"><rect x="529.5" y="132.8" width="136.89999999999998" height="88.0"/></clipPath>
<g clip-path="url(#cp1)">
<polygon points="529.5,220.8 529.50,220.80 536.35,198.39 543.19,190.31 550.03,186.38 556.88,180.38 563.73,180.38 570.57,181.07 577.41,180.38 584.26,181.07 591.11,179.68 597.95,183.38 604.79,180.38 611.64,179.68 618.49,181.99 625.33,181.53 632.17,180.38 639.02,181.99 645.87,181.99 652.71,181.07 659.55,181.99 666.40,181.99 666.4,220.8" fill="#e8eef4"/>
<polygon points="529.5,220.8 529.50,220.80 536.35,206.94 543.19,199.55 550.03,199.55 556.88,194.47 563.73,194.24 570.57,197.70 577.41,196.55 584.26,199.55 591.11,198.86 597.95,198.86 604.79,195.39 611.64,198.86 618.49,200.01 625.33,197.70 632.17,197.24 639.02,200.01 645.87,200.01 652.71,200.47 659.55,200.01 666.40,199.55 666.4,220.8" fill="#7097bd"/>
<polyline points="529.50,220.80 536.35,198.39 543.19,190.31 550.03,186.38 556.88,180.38 563.73,180.38 570.57,181.07 577.41,180.38 584.26,181.07 591.11,179.68 597.95,183.38 604.79,180.38 611.64,179.68 618.49,181.99 625.33,181.53 632.17,180.38 639.02,181.99 645.87,181.99 652.71,181.07 659.55,181.99 666.40,181.99" fill="none" stroke="#4a7bab" stroke-width="0.9"/>
<polyline points="529.50,220.80 536.35,206.94 543.19,199.55 550.03,199.55 556.88,194.47 563.73,194.24 570.57,197.70 577.41,196.55 584.26,199.55 591.11,198.86 597.95,198.86 604.79,195.39 611.64,198.86 618.49,200.01 625.33,197.70 632.17,197.24 639.02,200.01 645.87,200.01 652.71,200.47 659.55,200.01 666.40,199.55" fill="none" stroke="#4a7bab" stroke-width="0.9"/>
<path d="M536.35 192.10V204.69M534.75 192.10H537.95M534.75 204.69H537.95" stroke="#4a7bab" stroke-width="0.9" fill="none"/>
<circle cx="536.35" cy="198.39" r="2.55" fill="#ffffff" stroke="#4a7bab" stroke-width="1.15"/>
<path d="M543.19 186.71V193.91M541.59 186.71H544.79M541.59 193.91H544.79" stroke="#4a7bab" stroke-width="0.9" fill="none"/>
<circle cx="543.19" cy="190.31" r="2.55" fill="#ffffff" stroke="#4a7bab" stroke-width="1.15"/>
<path d="M550.03 181.81V190.95M548.43 181.81H551.63M548.43 190.95H551.63" stroke="#4a7bab" stroke-width="0.9" fill="none"/>
<circle cx="550.03" cy="186.38" r="2.55" fill="#ffffff" stroke="#4a7bab" stroke-width="1.15"/>
<path d="M556.88 177.46V183.29M555.28 177.46H558.48M555.28 183.29H558.48" stroke="#4a7bab" stroke-width="0.9" fill="none"/>
<circle cx="556.88" cy="180.38" r="2.55" fill="#ffffff" stroke="#4a7bab" stroke-width="1.15"/>
<path d="M563.73 176.41V184.34M562.12 176.41H565.33M562.12 184.34H565.33" stroke="#4a7bab" stroke-width="0.9" fill="none"/>
<circle cx="563.73" cy="180.38" r="2.55" fill="#ffffff" stroke="#4a7bab" stroke-width="1.15"/>
<path d="M570.57 177.72V184.41M568.97 177.72H572.17M568.97 184.41H572.17" stroke="#4a7bab" stroke-width="0.9" fill="none"/>
<circle cx="570.57" cy="181.07" r="2.55" fill="#ffffff" stroke="#4a7bab" stroke-width="1.15"/>
<path d="M577.41 177.21V183.54M575.81 177.21H579.01M575.81 183.54H579.01" stroke="#4a7bab" stroke-width="0.9" fill="none"/>
<circle cx="577.41" cy="180.38" r="2.55" fill="#ffffff" stroke="#4a7bab" stroke-width="1.15"/>
<path d="M584.26 176.71V185.43M582.66 176.71H585.86M582.66 185.43H585.86" stroke="#4a7bab" stroke-width="0.9" fill="none"/>
<circle cx="584.26" cy="181.07" r="2.55" fill="#ffffff" stroke="#4a7bab" stroke-width="1.15"/>
<path d="M591.11 175.33V184.04M589.50 175.33H592.71M589.50 184.04H592.71" stroke="#4a7bab" stroke-width="0.9" fill="none"/>
<circle cx="591.11" cy="179.68" r="2.55" fill="#ffffff" stroke="#4a7bab" stroke-width="1.15"/>
<path d="M597.95 177.40V189.36M596.35 177.40H599.55M596.35 189.36H599.55" stroke="#4a7bab" stroke-width="0.9" fill="none"/>
<circle cx="597.95" cy="183.38" r="2.55" fill="#ffffff" stroke="#4a7bab" stroke-width="1.15"/>
<path d="M604.79 175.52V185.23M603.19 175.52H606.39M603.19 185.23H606.39" stroke="#4a7bab" stroke-width="0.9" fill="none"/>
<circle cx="604.79" cy="180.38" r="2.55" fill="#ffffff" stroke="#4a7bab" stroke-width="1.15"/>
<path d="M611.64 173.58V185.79M610.04 173.58H613.24M610.04 185.79H613.24" stroke="#4a7bab" stroke-width="0.9" fill="none"/>
<circle cx="611.64" cy="179.68" r="2.55" fill="#ffffff" stroke="#4a7bab" stroke-width="1.15"/>
<path d="M618.49 176.25V187.73M616.88 176.25H620.09M616.88 187.73H620.09" stroke="#4a7bab" stroke-width="0.9" fill="none"/>
<circle cx="618.49" cy="181.99" r="2.55" fill="#ffffff" stroke="#4a7bab" stroke-width="1.15"/>
<path d="M625.33 175.11V187.95M623.73 175.11H626.93M623.73 187.95H626.93" stroke="#4a7bab" stroke-width="0.9" fill="none"/>
<circle cx="625.33" cy="181.53" r="2.55" fill="#ffffff" stroke="#4a7bab" stroke-width="1.15"/>
<path d="M632.17 175.58V185.17M630.57 175.58H633.77M630.57 185.17H633.77" stroke="#4a7bab" stroke-width="0.9" fill="none"/>
<circle cx="632.17" cy="180.38" r="2.55" fill="#ffffff" stroke="#4a7bab" stroke-width="1.15"/>
<path d="M639.02 179.78V184.21M637.42 179.78H640.62M637.42 184.21H640.62" stroke="#4a7bab" stroke-width="0.9" fill="none"/>
<circle cx="639.02" cy="181.99" r="2.55" fill="#ffffff" stroke="#4a7bab" stroke-width="1.15"/>
<path d="M645.87 176.23V187.75M644.26 176.23H647.47M644.26 187.75H647.47" stroke="#4a7bab" stroke-width="0.9" fill="none"/>
<circle cx="645.87" cy="181.99" r="2.55" fill="#ffffff" stroke="#4a7bab" stroke-width="1.15"/>
<path d="M652.71 174.78V187.36M651.11 174.78H654.31M651.11 187.36H654.31" stroke="#4a7bab" stroke-width="0.9" fill="none"/>
<circle cx="652.71" cy="181.07" r="2.55" fill="#ffffff" stroke="#4a7bab" stroke-width="1.15"/>
<path d="M659.55 176.01V187.98M657.95 176.01H661.15M657.95 187.98H661.15" stroke="#4a7bab" stroke-width="0.9" fill="none"/>
<circle cx="659.55" cy="181.99" r="2.55" fill="#ffffff" stroke="#4a7bab" stroke-width="1.15"/>
<path d="M666.40 177.71V186.27M664.80 177.71H668.00M664.80 186.27H668.00" stroke="#4a7bab" stroke-width="0.9" fill="none"/>
<circle cx="666.40" cy="181.99" r="2.55" fill="#ffffff" stroke="#4a7bab" stroke-width="1.15"/>
<path d="M536.35 201.46V212.42M534.75 201.46H537.95M534.75 212.42H537.95" stroke="#4a7bab" stroke-width="0.9" fill="none"/>
<circle cx="536.35" cy="206.94" r="2.9" fill="#4a7bab"/>
<path d="M543.19 196.63V202.47M541.59 196.63H544.79M541.59 202.47H544.79" stroke="#4a7bab" stroke-width="0.9" fill="none"/>
<circle cx="543.19" cy="199.55" r="2.9" fill="#4a7bab"/>
<path d="M550.03 193.47V205.62M548.43 193.47H551.63M548.43 205.62H551.63" stroke="#4a7bab" stroke-width="0.9" fill="none"/>
<circle cx="550.03" cy="199.55" r="2.9" fill="#4a7bab"/>
<path d="M556.88 189.70V199.23M555.28 189.70H558.48M555.28 199.23H558.48" stroke="#4a7bab" stroke-width="0.9" fill="none"/>
<circle cx="556.88" cy="194.47" r="2.9" fill="#4a7bab"/>
<path d="M563.73 190.94V197.53M562.12 190.94H565.33M562.12 197.53H565.33" stroke="#4a7bab" stroke-width="0.9" fill="none"/>
<circle cx="563.73" cy="194.24" r="2.9" fill="#4a7bab"/>
<path d="M570.57 195.53V199.87M568.97 195.53H572.17M568.97 199.87H572.17" stroke="#4a7bab" stroke-width="0.9" fill="none"/>
<circle cx="570.57" cy="197.70" r="2.9" fill="#4a7bab"/>
<path d="M577.41 190.36V202.73M575.81 190.36H579.01M575.81 202.73H579.01" stroke="#4a7bab" stroke-width="0.9" fill="none"/>
<circle cx="577.41" cy="196.55" r="2.9" fill="#4a7bab"/>
<path d="M584.26 192.67V206.43M582.66 192.67H585.86M582.66 206.43H585.86" stroke="#4a7bab" stroke-width="0.9" fill="none"/>
<circle cx="584.26" cy="199.55" r="2.9" fill="#4a7bab"/>
<path d="M591.11 196.56V201.15M589.50 196.56H592.71M589.50 201.15H592.71" stroke="#4a7bab" stroke-width="0.9" fill="none"/>
<circle cx="591.11" cy="198.86" r="2.9" fill="#4a7bab"/>
<path d="M597.95 192.94V204.77M596.35 192.94H599.55M596.35 204.77H599.55" stroke="#4a7bab" stroke-width="0.9" fill="none"/>
<circle cx="597.95" cy="198.86" r="2.9" fill="#4a7bab"/>
<path d="M604.79 191.46V199.32M603.19 191.46H606.39M603.19 199.32H606.39" stroke="#4a7bab" stroke-width="0.9" fill="none"/>
<circle cx="604.79" cy="195.39" r="2.9" fill="#4a7bab"/>
<path d="M611.64 196.24V201.47M610.04 196.24H613.24M610.04 201.47H613.24" stroke="#4a7bab" stroke-width="0.9" fill="none"/>
<circle cx="611.64" cy="198.86" r="2.9" fill="#4a7bab"/>
<path d="M618.49 196.67V203.35M616.88 196.67H620.09M616.88 203.35H620.09" stroke="#4a7bab" stroke-width="0.9" fill="none"/>
<circle cx="618.49" cy="200.01" r="2.9" fill="#4a7bab"/>
<path d="M625.33 191.94V203.46M623.73 191.94H626.93M623.73 203.46H626.93" stroke="#4a7bab" stroke-width="0.9" fill="none"/>
<circle cx="625.33" cy="197.70" r="2.9" fill="#4a7bab"/>
<path d="M632.17 190.95V203.52M630.57 190.95H633.77M630.57 203.52H633.77" stroke="#4a7bab" stroke-width="0.9" fill="none"/>
<circle cx="632.17" cy="197.24" r="2.9" fill="#4a7bab"/>
<path d="M639.02 197.94V202.08M637.42 197.94H640.62M637.42 202.08H640.62" stroke="#4a7bab" stroke-width="0.9" fill="none"/>
<circle cx="639.02" cy="200.01" r="2.9" fill="#4a7bab"/>
<path d="M645.87 195.04V204.98M644.26 195.04H647.47M644.26 204.98H647.47" stroke="#4a7bab" stroke-width="0.9" fill="none"/>
<circle cx="645.87" cy="200.01" r="2.9" fill="#4a7bab"/>
<path d="M652.71 198.40V202.55M651.11 198.40H654.31M651.11 202.55H654.31" stroke="#4a7bab" stroke-width="0.9" fill="none"/>
<circle cx="652.71" cy="200.47" r="2.9" fill="#4a7bab"/>
<path d="M659.55 194.51V205.51M657.95 194.51H661.15M657.95 205.51H661.15" stroke="#4a7bab" stroke-width="0.9" fill="none"/>
<circle cx="659.55" cy="200.01" r="2.9" fill="#4a7bab"/>
<path d="M666.40 196.02V203.08M664.80 196.02H668.00M664.80 203.08H668.00" stroke="#4a7bab" stroke-width="0.9" fill="none"/>
<circle cx="666.40" cy="199.55" r="2.9" fill="#4a7bab"/>
</g>
<rect x="529.5" y="132.8" width="136.9" height="88.0" fill="none" stroke="#333333" stroke-width="1"/>
<line x1="526.70" y1="220.80" x2="529.50" y2="220.80" stroke="#555" stroke-width="0.8" />
<text x="525.00" y="223.75" font-size="7.55" text-anchor="end" fill="#222" stroke="#222" stroke-width="0.1" >0.0</text>
<line x1="526.70" y1="197.70" x2="529.50" y2="197.70" stroke="#555" stroke-width="0.8" />
<text x="525.00" y="200.65" font-size="7.55" text-anchor="end" fill="#222" stroke="#222" stroke-width="0.1" >1.0</text>
<line x1="526.70" y1="174.60" x2="529.50" y2="174.60" stroke="#555" stroke-width="0.8" />
<text x="525.00" y="177.55" font-size="7.55" text-anchor="end" fill="#222" stroke="#222" stroke-width="0.1" >2.0</text>
<line x1="526.70" y1="151.50" x2="529.50" y2="151.50" stroke="#555" stroke-width="0.8" />
<text x="525.00" y="154.45" font-size="7.55" text-anchor="end" fill="#222" stroke="#222" stroke-width="0.1" >3.0</text>
<line x1="529.50" y1="220.80" x2="529.50" y2="223.60" stroke="#555" stroke-width="0.8" />
<line x1="556.88" y1="220.80" x2="556.88" y2="223.60" stroke="#555" stroke-width="0.8" />
<line x1="584.26" y1="220.80" x2="584.26" y2="223.60" stroke="#555" stroke-width="0.8" />
<line x1="611.64" y1="220.80" x2="611.64" y2="223.60" stroke="#555" stroke-width="0.8" />
<line x1="639.02" y1="220.80" x2="639.02" y2="223.60" stroke="#555" stroke-width="0.8" />
<line x1="666.40" y1="220.80" x2="666.40" y2="223.60" stroke="#555" stroke-width="0.8" />
<text x="532.50" y="142.40" font-size="8.38" text-anchor="start" fill="#222" stroke="#222" stroke-width="0.1" >Total O<tspan font-size="6.3" dy="1.6">2</tspan><tspan dy="-1.6"> </tspan><tspan font-size="6.3" font-style="italic" dy="1.6">uptake</tspan><tspan dy="-1.6">=1.68 μmol/m</tspan><tspan font-size="6.3" dy="-3.2">2</tspan><tspan font-size="6.3" font-style="italic" dx="-3.5" dy="5.4">ceria</tspan></text>
<text x="669.80" y="191.40" font-size="7.55" text-anchor="start" fill="#4a7bab" stroke="#4a7bab" stroke-width="0.1" >0.77</text>
<text x="669.80" y="209.90" font-size="7.55" text-anchor="start" fill="#4a7bab" stroke="#4a7bab" stroke-width="0.1" >0.92</text>
<clipPath id="cp2"><rect x="529.5" y="230.9" width="136.89999999999998" height="87.99999999999997"/></clipPath>
<g clip-path="url(#cp2)">
<polygon points="529.5,318.9 529.50,318.90 536.35,290.02 543.19,276.16 550.03,272.70 556.88,270.39 563.73,267.62 570.57,268.08 577.41,266.23 584.26,267.62 591.11,266.23 597.95,266.23 604.79,266.23 611.64,264.61 618.49,265.77 625.33,265.31 632.17,264.61 639.02,265.77 645.87,266.23 652.71,266.23 659.55,266.92 666.40,266.23 666.4,318.9" fill="#e2e6e9"/>
<polygon points="529.5,318.9 529.50,318.90 536.35,300.42 543.19,294.64 550.03,292.33 556.88,290.02 563.73,286.56 570.57,288.87 577.41,290.02 584.26,290.72 591.11,290.72 597.95,290.02 604.79,292.33 611.64,291.18 618.49,290.72 625.33,290.02 632.17,290.02 639.02,291.18 645.87,291.64 652.71,292.33 659.55,293.03 666.40,292.33 666.4,318.9" fill="#465f6e"/>
<polyline points="529.50,318.90 536.35,290.02 543.19,276.16 550.03,272.70 556.88,270.39 563.73,267.62 570.57,268.08 577.41,266.23 584.26,267.62 591.11,266.23 597.95,266.23 604.79,266.23 611.64,264.61 618.49,265.77 625.33,265.31 632.17,264.61 639.02,265.77 645.87,266.23 652.71,266.23 659.55,266.92 666.40,266.23" fill="none" stroke="#14303f" stroke-width="0.9"/>
<polyline points="529.50,318.90 536.35,300.42 543.19,294.64 550.03,292.33 556.88,290.02 563.73,286.56 570.57,288.87 577.41,290.02 584.26,290.72 591.11,290.72 597.95,290.02 604.79,292.33 611.64,291.18 618.49,290.72 625.33,290.02 632.17,290.02 639.02,291.18 645.87,291.64 652.71,292.33 659.55,293.03 666.40,292.33" fill="none" stroke="#14303f" stroke-width="0.9"/>
<path d="M536.35 284.16V295.89M534.75 284.16H537.95M534.75 295.89H537.95" stroke="#14303f" stroke-width="0.9" fill="none"/>
<circle cx="536.35" cy="290.02" r="2.55" fill="#ffffff" stroke="#14303f" stroke-width="1.15"/>
<path d="M543.19 269.80V282.53M541.59 269.80H544.79M541.59 282.53H544.79" stroke="#14303f" stroke-width="0.9" fill="none"/>
<circle cx="543.19" cy="276.16" r="2.55" fill="#ffffff" stroke="#14303f" stroke-width="1.15"/>
<path d="M550.03 268.75V276.65M548.43 268.75H551.63M548.43 276.65H551.63" stroke="#14303f" stroke-width="0.9" fill="none"/>
<circle cx="550.03" cy="272.70" r="2.55" fill="#ffffff" stroke="#14303f" stroke-width="1.15"/>
<path d="M556.88 263.93V276.85M555.28 263.93H558.48M555.28 276.85H558.48" stroke="#14303f" stroke-width="0.9" fill="none"/>
<circle cx="556.88" cy="270.39" r="2.55" fill="#ffffff" stroke="#14303f" stroke-width="1.15"/>
<path d="M563.73 264.66V270.58M562.12 264.66H565.33M562.12 270.58H565.33" stroke="#14303f" stroke-width="0.9" fill="none"/>
<circle cx="563.73" cy="267.62" r="2.55" fill="#ffffff" stroke="#14303f" stroke-width="1.15"/>
<path d="M570.57 266.30V269.86M568.97 266.30H572.17M568.97 269.86H572.17" stroke="#14303f" stroke-width="0.9" fill="none"/>
<circle cx="570.57" cy="268.08" r="2.55" fill="#ffffff" stroke="#14303f" stroke-width="1.15"/>
<path d="M577.41 261.80V270.67M575.81 261.80H579.01M575.81 270.67H579.01" stroke="#14303f" stroke-width="0.9" fill="none"/>
<circle cx="577.41" cy="266.23" r="2.55" fill="#ffffff" stroke="#14303f" stroke-width="1.15"/>
<path d="M584.26 266.07V269.16M582.66 266.07H585.86M582.66 269.16H585.86" stroke="#14303f" stroke-width="0.9" fill="none"/>
<circle cx="584.26" cy="267.62" r="2.55" fill="#ffffff" stroke="#14303f" stroke-width="1.15"/>
<path d="M591.11 263.84V268.62M589.50 263.84H592.71M589.50 268.62H592.71" stroke="#14303f" stroke-width="0.9" fill="none"/>
<circle cx="591.11" cy="266.23" r="2.55" fill="#ffffff" stroke="#14303f" stroke-width="1.15"/>
<path d="M597.95 262.77V269.69M596.35 262.77H599.55M596.35 269.69H599.55" stroke="#14303f" stroke-width="0.9" fill="none"/>
<circle cx="597.95" cy="266.23" r="2.55" fill="#ffffff" stroke="#14303f" stroke-width="1.15"/>
<path d="M604.79 261.74V270.72M603.19 261.74H606.39M603.19 270.72H606.39" stroke="#14303f" stroke-width="0.9" fill="none"/>
<circle cx="604.79" cy="266.23" r="2.55" fill="#ffffff" stroke="#14303f" stroke-width="1.15"/>
<path d="M611.64 262.44V266.79M610.04 262.44H613.24M610.04 266.79H613.24" stroke="#14303f" stroke-width="0.9" fill="none"/>
<circle cx="611.64" cy="264.61" r="2.55" fill="#ffffff" stroke="#14303f" stroke-width="1.15"/>
<path d="M618.49 264.17V267.37M616.88 264.17H620.09M616.88 267.37H620.09" stroke="#14303f" stroke-width="0.9" fill="none"/>
<circle cx="618.49" cy="265.77" r="2.55" fill="#ffffff" stroke="#14303f" stroke-width="1.15"/>
<path d="M625.33 259.51V271.10M623.73 259.51H626.93M623.73 271.10H626.93" stroke="#14303f" stroke-width="0.9" fill="none"/>
<circle cx="625.33" cy="265.31" r="2.55" fill="#ffffff" stroke="#14303f" stroke-width="1.15"/>
<path d="M632.17 261.63V267.60M630.57 261.63H633.77M630.57 267.60H633.77" stroke="#14303f" stroke-width="0.9" fill="none"/>
<circle cx="632.17" cy="264.61" r="2.55" fill="#ffffff" stroke="#14303f" stroke-width="1.15"/>
<path d="M639.02 259.51V272.03M637.42 259.51H640.62M637.42 272.03H640.62" stroke="#14303f" stroke-width="0.9" fill="none"/>
<circle cx="639.02" cy="265.77" r="2.55" fill="#ffffff" stroke="#14303f" stroke-width="1.15"/>
<path d="M645.87 260.29V272.17M644.26 260.29H647.47M644.26 272.17H647.47" stroke="#14303f" stroke-width="0.9" fill="none"/>
<circle cx="645.87" cy="266.23" r="2.55" fill="#ffffff" stroke="#14303f" stroke-width="1.15"/>
<path d="M652.71 262.93V269.54M651.11 262.93H654.31M651.11 269.54H654.31" stroke="#14303f" stroke-width="0.9" fill="none"/>
<circle cx="652.71" cy="266.23" r="2.55" fill="#ffffff" stroke="#14303f" stroke-width="1.15"/>
<path d="M659.55 263.20V270.65M657.95 263.20H661.15M657.95 270.65H661.15" stroke="#14303f" stroke-width="0.9" fill="none"/>
<circle cx="659.55" cy="266.92" r="2.55" fill="#ffffff" stroke="#14303f" stroke-width="1.15"/>
<path d="M666.40 262.20V270.26M664.80 262.20H668.00M664.80 270.26H668.00" stroke="#14303f" stroke-width="0.9" fill="none"/>
<circle cx="666.40" cy="266.23" r="2.55" fill="#ffffff" stroke="#14303f" stroke-width="1.15"/>
<path d="M536.35 295.30V305.54M534.75 295.30H537.95M534.75 305.54H537.95" stroke="#14303f" stroke-width="0.9" fill="none"/>
<circle cx="536.35" cy="300.42" r="2.9" fill="#14303f"/>
<path d="M543.19 289.77V299.52M541.59 289.77H544.79M541.59 299.52H544.79" stroke="#14303f" stroke-width="0.9" fill="none"/>
<circle cx="543.19" cy="294.64" r="2.9" fill="#14303f"/>
<path d="M550.03 287.64V297.03M548.43 287.64H551.63M548.43 297.03H551.63" stroke="#14303f" stroke-width="0.9" fill="none"/>
<circle cx="550.03" cy="292.33" r="2.9" fill="#14303f"/>
<path d="M556.88 285.03V295.02M555.28 285.03H558.48M555.28 295.02H558.48" stroke="#14303f" stroke-width="0.9" fill="none"/>
<circle cx="556.88" cy="290.02" r="2.9" fill="#14303f"/>
<path d="M563.73 279.93V293.19M562.12 279.93H565.33M562.12 293.19H565.33" stroke="#14303f" stroke-width="0.9" fill="none"/>
<circle cx="563.73" cy="286.56" r="2.9" fill="#14303f"/>
<path d="M570.57 284.45V293.29M568.97 284.45H572.17M568.97 293.29H572.17" stroke="#14303f" stroke-width="0.9" fill="none"/>
<circle cx="570.57" cy="288.87" r="2.9" fill="#14303f"/>
<path d="M577.41 285.99V294.06M575.81 285.99H579.01M575.81 294.06H579.01" stroke="#14303f" stroke-width="0.9" fill="none"/>
<circle cx="577.41" cy="290.02" r="2.9" fill="#14303f"/>
<path d="M584.26 285.21V296.23M582.66 285.21H585.86M582.66 296.23H585.86" stroke="#14303f" stroke-width="0.9" fill="none"/>
<circle cx="584.26" cy="290.72" r="2.9" fill="#14303f"/>
<path d="M591.11 287.66V293.77M589.50 287.66H592.71M589.50 293.77H592.71" stroke="#14303f" stroke-width="0.9" fill="none"/>
<circle cx="591.11" cy="290.72" r="2.9" fill="#14303f"/>
<path d="M597.95 286.65V293.40M596.35 286.65H599.55M596.35 293.40H599.55" stroke="#14303f" stroke-width="0.9" fill="none"/>
<circle cx="597.95" cy="290.02" r="2.9" fill="#14303f"/>
<path d="M604.79 285.52V299.15M603.19 285.52H606.39M603.19 299.15H606.39" stroke="#14303f" stroke-width="0.9" fill="none"/>
<circle cx="604.79" cy="292.33" r="2.9" fill="#14303f"/>
<path d="M611.64 286.68V295.68M610.04 286.68H613.24M610.04 295.68H613.24" stroke="#14303f" stroke-width="0.9" fill="none"/>
<circle cx="611.64" cy="291.18" r="2.9" fill="#14303f"/>
<path d="M618.49 286.08V295.35M616.88 286.08H620.09M616.88 295.35H620.09" stroke="#14303f" stroke-width="0.9" fill="none"/>
<circle cx="618.49" cy="290.72" r="2.9" fill="#14303f"/>
<path d="M625.33 288.12V291.93M623.73 288.12H626.93M623.73 291.93H626.93" stroke="#14303f" stroke-width="0.9" fill="none"/>
<circle cx="625.33" cy="290.02" r="2.9" fill="#14303f"/>
<path d="M632.17 286.07V293.98M630.57 286.07H633.77M630.57 293.98H633.77" stroke="#14303f" stroke-width="0.9" fill="none"/>
<circle cx="632.17" cy="290.02" r="2.9" fill="#14303f"/>
<path d="M639.02 286.38V295.98M637.42 286.38H640.62M637.42 295.98H640.62" stroke="#14303f" stroke-width="0.9" fill="none"/>
<circle cx="639.02" cy="291.18" r="2.9" fill="#14303f"/>
<path d="M645.87 289.69V293.59M644.26 289.69H647.47M644.26 293.59H647.47" stroke="#14303f" stroke-width="0.9" fill="none"/>
<circle cx="645.87" cy="291.64" r="2.9" fill="#14303f"/>
<path d="M652.71 287.36V297.31M651.11 287.36H654.31M651.11 297.31H654.31" stroke="#14303f" stroke-width="0.9" fill="none"/>
<circle cx="652.71" cy="292.33" r="2.9" fill="#14303f"/>
<path d="M659.55 287.97V298.09M657.95 287.97H661.15M657.95 298.09H661.15" stroke="#14303f" stroke-width="0.9" fill="none"/>
<circle cx="659.55" cy="293.03" r="2.9" fill="#14303f"/>
<path d="M666.40 290.18V294.49M664.80 290.18H668.00M664.80 294.49H668.00" stroke="#14303f" stroke-width="0.9" fill="none"/>
<circle cx="666.40" cy="292.33" r="2.9" fill="#14303f"/>
</g>
<rect x="529.5" y="230.9" width="136.9" height="88.0" fill="none" stroke="#333333" stroke-width="1"/>
<line x1="526.70" y1="318.90" x2="529.50" y2="318.90" stroke="#555" stroke-width="0.8" />
<text x="525.00" y="321.85" font-size="7.55" text-anchor="end" fill="#222" stroke="#222" stroke-width="0.1" >0.0</text>
<line x1="526.70" y1="295.80" x2="529.50" y2="295.80" stroke="#555" stroke-width="0.8" />
<text x="525.00" y="298.75" font-size="7.55" text-anchor="end" fill="#222" stroke="#222" stroke-width="0.1" >1.0</text>
<line x1="526.70" y1="272.70" x2="529.50" y2="272.70" stroke="#555" stroke-width="0.8" />
<text x="525.00" y="275.65" font-size="7.55" text-anchor="end" fill="#222" stroke="#222" stroke-width="0.1" >2.0</text>
<line x1="526.70" y1="249.60" x2="529.50" y2="249.60" stroke="#555" stroke-width="0.8" />
<text x="525.00" y="252.55" font-size="7.55" text-anchor="end" fill="#222" stroke="#222" stroke-width="0.1" >3.0</text>
<line x1="529.50" y1="318.90" x2="529.50" y2="321.70" stroke="#555" stroke-width="0.8" />
<line x1="556.88" y1="318.90" x2="556.88" y2="321.70" stroke="#555" stroke-width="0.8" />
<line x1="584.26" y1="318.90" x2="584.26" y2="321.70" stroke="#555" stroke-width="0.8" />
<line x1="611.64" y1="318.90" x2="611.64" y2="321.70" stroke="#555" stroke-width="0.8" />
<line x1="639.02" y1="318.90" x2="639.02" y2="321.70" stroke="#555" stroke-width="0.8" />
<line x1="666.40" y1="318.90" x2="666.40" y2="321.70" stroke="#555" stroke-width="0.8" />
<text x="532.50" y="240.50" font-size="8.38" text-anchor="start" fill="#222" stroke="#222" stroke-width="0.1" >Total O<tspan font-size="6.3" dy="1.6">2</tspan><tspan dy="-1.6"> </tspan><tspan font-size="6.3" font-style="italic" dy="1.6">uptake</tspan><tspan dy="-1.6">=2.29 μmol/m</tspan><tspan font-size="6.3" dy="-3.2">2</tspan><tspan font-size="6.3" font-style="italic" dx="-3.5" dy="5.4">ceria</tspan></text>
<text x="669.80" y="278.50" font-size="7.55" text-anchor="start" fill="#2a4a5e" stroke="#2a4a5e" stroke-width="0.1" >1.11</text>
<text x="669.80" y="306.20" font-size="7.55" text-anchor="start" fill="#2a4a5e" stroke="#2a4a5e" stroke-width="0.1" >1.18</text>
<text x="529.50" y="330.00" font-size="7.55" text-anchor="middle" fill="#222" stroke="#222" stroke-width="0.1" >0</text>
<text x="556.88" y="330.00" font-size="7.55" text-anchor="middle" fill="#222" stroke="#222" stroke-width="0.1" >20</text>
<text x="584.26" y="330.00" font-size="7.55" text-anchor="middle" fill="#222" stroke="#222" stroke-width="0.1" >40</text>
<text x="611.64" y="330.00" font-size="7.55" text-anchor="middle" fill="#222" stroke="#222" stroke-width="0.1" >60</text>
<text x="639.02" y="330.00" font-size="7.55" text-anchor="middle" fill="#222" stroke="#222" stroke-width="0.1" >80</text>
<text x="666.40" y="330.00" font-size="7.55" text-anchor="middle" fill="#222" stroke="#222" stroke-width="0.1" >100</text>
<text x="598.60" y="340.20" font-size="8.0" text-anchor="middle" fill="#222" stroke="#222" stroke-width="0.1" >Time Steps (ps)</text>
<text transform="translate(504.2 179) rotate(-90)" font-size="9.16" text-anchor="middle" fill="#222">Total O<tspan font-size="6" dy="1.8">2</tspan><tspan dy="-1.8"> uptake (μmol[O</tspan><tspan font-size="6" dy="1.8">2</tspan><tspan dy="-1.8">]/mol</tspan><tspan font-size="5.6" dy="1.8">ceria</tspan><tspan dy="-1.8">)</tspan></text>
<path d="M563.3 287 L557.6 298.5" stroke="#ffffff" stroke-width="1" stroke-dasharray="2.2,1.6" fill="none"/>
<path d="M555.3 303 L555.6 298.2 L559.2 300.4 Z" fill="#ffffff"/>
<text x="551.70" y="311.00" font-size="7.55" text-anchor="middle" fill="#ffffff" stroke="#ffffff" stroke-width="0.1" >1.39</text>
<path d="M546.50 0.50V12.50M544.70 0.50H548.30M544.70 12.50H548.30" stroke="#111" stroke-width="0.9" fill="none"/>
<circle cx="546.5" cy="6.7" r="2.9" fill="#fff" stroke="#111" stroke-width="1.1"/>
<path d="M546.50 16.00V28.60M544.70 16.00H548.30M544.70 28.60H548.30" stroke="#111" stroke-width="0.9" fill="none"/>
<circle cx="546.5" cy="22.3" r="3.1" fill="#13296a" stroke="#111" stroke-width="0.6"/>
<text x="555.70" y="9.70" font-size="7.95" text-anchor="start" fill="#222" stroke="#222" stroke-width="0.1" >Lattice oxygen transfer</text>
<text x="555.70" y="25.40" font-size="8.0" text-anchor="start" fill="#222" stroke="#222" stroke-width="0.1" >O<tspan font-size="5.8" dy="1.6">2</tspan><tspan dy="-1.6"> activation</tspan></text>
<rect x="47.2" y="343.7" width="141.3" height="123.0" fill="none" stroke="#333333" stroke-width="1"/>
<line x1="44.40" y1="454.30" x2="47.20" y2="454.30" stroke="#555" stroke-width="0.8" />
<text x="42.70" y="457.50" font-size="8.9" text-anchor="end" fill="#222" stroke="#222" stroke-width="0.1" >0.0</text>
<line x1="44.40" y1="421.70" x2="47.20" y2="421.70" stroke="#555" stroke-width="0.8" />
<text x="42.70" y="424.90" font-size="8.9" text-anchor="end" fill="#222" stroke="#222" stroke-width="0.1" >0.5</text>
<line x1="44.40" y1="389.10" x2="47.20" y2="389.10" stroke="#555" stroke-width="0.8" />
<text x="42.70" y="392.30" font-size="8.9" text-anchor="end" fill="#222" stroke="#222" stroke-width="0.1" >1.0</text>
<line x1="44.40" y1="356.50" x2="47.20" y2="356.50" stroke="#555" stroke-width="0.8" />
<text x="42.70" y="359.70" font-size="8.9" text-anchor="end" fill="#222" stroke="#222" stroke-width="0.1" >1.5</text>
<line x1="61.50" y1="466.70" x2="61.50" y2="469.50" stroke="#555" stroke-width="0.8" />
<text x="61.50" y="479.20" font-size="8.9" text-anchor="middle" fill="#222" stroke="#222" stroke-width="0.1" >3.7CA</text>
<line x1="117.00" y1="466.70" x2="117.00" y2="469.50" stroke="#555" stroke-width="0.8" />
<text x="117.00" y="479.20" font-size="8.9" text-anchor="middle" fill="#222" stroke="#222" stroke-width="0.1" >5.6CA</text>
<line x1="172.30" y1="466.70" x2="172.30" y2="469.50" stroke="#555" stroke-width="0.8" />
<text x="172.30" y="479.20" font-size="8.9" text-anchor="middle" fill="#222" stroke="#222" stroke-width="0.1" >7.3CA</text>
<polyline points="67,366.9 122.5,394.3 178,377.4" fill="none" stroke="#444" stroke-width="1.25" stroke-dasharray="3.6,2.2"/>
<polyline points="61.5,439.3 117,404.1 172,381.9" fill="none" stroke="#b8b8b8" stroke-width="1.2" stroke-dasharray="3.6,2.2"/>
<path d="M67.00 348.02V385.84M65.00 348.02H69.00M65.00 385.84H69.00" stroke="#d9646e" stroke-width="1" fill="none"/>
<circle cx="67" cy="366.93" r="4.1" fill="#d9646e"/>
<path d="M61.50 424.31V454.30M59.50 424.31H63.50M59.50 454.30H63.50" stroke="#d9646e" stroke-width="1" fill="none"/>
<circle cx="61.5" cy="439.30" r="3.6" fill="#fff" stroke="#d9646e" stroke-width="1.1"/>
<path d="M122.50 392.36V396.27M120.50 392.36H124.50M120.50 396.27H124.50" stroke="#4a7bab" stroke-width="1" fill="none"/>
<circle cx="122.5" cy="394.32" r="4.1" fill="#4a7bab"/>
<path d="M117.00 400.18V408.01M115.00 400.18H119.00M115.00 408.01H119.00" stroke="#4a7bab" stroke-width="1" fill="none"/>
<circle cx="117" cy="404.10" r="3.6" fill="#fff" stroke="#4a7bab" stroke-width="1.1"/>
<path d="M178.00 369.54V385.19M176.00 369.54H180.00M176.00 385.19H180.00" stroke="#14303f" stroke-width="1" fill="none"/>
<circle cx="178" cy="377.36" r="4.1" fill="#14303f"/>
<path d="M171.80 374.10V389.75M169.80 374.10H173.80M169.80 389.75H173.80" stroke="#14303f" stroke-width="1" fill="none"/>
<circle cx="171.8" cy="381.93" r="3.6" fill="#fff" stroke="#14303f" stroke-width="1.1"/>
<path d="M86.9 366.7 V356.2 H102.5" fill="none" stroke="#333" stroke-width="1.1"/><path d="M106 356.2 L101.5 354 L101.5 358.4 Z" fill="#333"/>
<text x="108.10" y="358.80" font-size="8.9" text-anchor="start" fill="#222" stroke="#222" stroke-width="0.1" >O<tspan font-size="6.2" dy="1.7">2</tspan><tspan dy="-1.7"> activation</tspan></text>
<path d="M92.6 425 V437.6 H107" fill="none" stroke="#bdbdbd" stroke-width="1.1"/><path d="M110.5 437.6 L106 435.4 L106 439.8 Z" fill="#bdbdbd"/>
<text x="120.00" y="431.30" font-size="8.9" text-anchor="start" fill="#b5b5b5" stroke="#b5b5b5" stroke-width="0.1" >Lattice</text>
<text x="120.00" y="441.80" font-size="8.9" text-anchor="start" fill="#b5b5b5" stroke="#b5b5b5" stroke-width="0.1" >oxygen</text>
<text x="120.00" y="452.30" font-size="8.9" text-anchor="start" fill="#b5b5b5" stroke="#b5b5b5" stroke-width="0.1" >transfer</text>
<text transform="translate(12.2 418.9) rotate(-90)" font-size="8.8" text-anchor="middle" fill="#222">O<tspan font-size="6.16" dy="1.9">2</tspan><tspan dy="-1.9"> uptake</tspan></text>
<text transform="translate(23.6 416.8) rotate(-90)" font-size="9.2" text-anchor="middle" fill="#222">(μmol[O<tspan font-size="6.44" dy="1.9">2</tspan><tspan dy="-1.9">]/mol</tspan><tspan font-size="5.98" dy="1.9">ceria</tspan><tspan dy="-1.9">)</tspan></text>
<path d="M56.8,509.5 L55.62,532.07 A22.6,22.6 0 1 1 74.36,523.72 Z" fill="#e0858d" stroke="#ffffff" stroke-width="0.6" stroke-linejoin="round"/>
<path d="M56.8,509.5 L74.36,523.72 A22.6,22.6 0 0 1 55.62,532.07 Z" fill="#f6e6e9" stroke="#ffffff" stroke-width="0.6" stroke-linejoin="round"/>
<text x="57.40" y="504.20" font-size="8.3" text-anchor="middle" fill="#ffffff" stroke="#ffffff" stroke-width="0.1" >85%</text>
<text x="80.80" y="533.40" font-size="8.3" text-anchor="middle" fill="#222" stroke="#222" stroke-width="0.1" >15%</text>
<path d="M118.8,509.5 L98.32,499.95 A22.6,22.6 0 1 1 136.11,524.03 Z" fill="#668fba" stroke="none" stroke-width="0" stroke-linejoin="round"/>
<path d="M118.8,509.5 L136.11,524.03 A22.6,22.6 0 0 1 98.32,499.95 Z" fill="#e6edf5" stroke="none" stroke-width="0" stroke-linejoin="round"/>
<circle cx="118.8" cy="509.5" r="22.6" fill="none" stroke="#4a7bab" stroke-width="0.9"/>
<text x="127.60" y="503.10" font-size="8.3" text-anchor="middle" fill="#ffffff" stroke="#ffffff" stroke-width="0.1" >54%</text>
<text x="114.90" y="520.70" font-size="8.3" text-anchor="middle" fill="#222" stroke="#222" stroke-width="0.1" >46%</text>
<path d="M180.2,509.5 L164.79,492.97 A22.6,22.6 0 0 1 196.73,524.91 Z" fill="#2f4b5c" stroke="none" stroke-width="0" stroke-linejoin="round"/>
<path d="M180.2,509.5 L196.73,524.91 A22.6,22.6 0 1 1 164.79,492.97 Z" fill="#e2e5e8" stroke="none" stroke-width="0" stroke-linejoin="round"/>
<circle cx="180.2" cy="509.5" r="22.6" fill="none" stroke="#2a4656" stroke-width="0.9"/>
<text x="186.50" y="502.30" font-size="8.3" text-anchor="middle" fill="#ffffff" stroke="#ffffff" stroke-width="0.1" >49%</text>
<text x="173.50" y="519.30" font-size="8.3" text-anchor="middle" fill="#222" stroke="#222" stroke-width="0.1" >51%</text>
<rect x="263.3" y="342.5" width="193.1" height="161.4" fill="none" stroke="#333333" stroke-width="1"/>
<rect x="271.25" y="468.09" width="16.1" height="35.81" fill="#f0c4c7"/>
<rect x="287.35" y="467.86" width="16.1" height="36.04" fill="#e9aaaf"/>
<rect x="303.45" y="431.37" width="16.1" height="72.53" fill="#e0959a"/>
<path d="M279.30 457.19V479.00M277.30 457.19H281.30M277.30 479.00H281.30" stroke="#d9646e" stroke-width="1" fill="none"/>
<circle cx="279.30" cy="468.09" r="3.6" fill="#d9646e"/>
<path d="M295.40 462.92V472.81M293.40 462.92H297.40M293.40 472.81H297.40" stroke="#d9646e" stroke-width="1" fill="none"/>
<rect x="292.10" y="464.56" width="6.6" height="6.6" fill="#d9646e"/>
<path d="M311.50 416.12V446.61M309.50 416.12H313.50M309.50 446.61H313.50" stroke="#d9646e" stroke-width="1" fill="none"/>
<path d="M311.50 427.17 L315.50 434.17 L307.50 434.17 Z" fill="#d9646e"/>
<rect x="335.65" y="463.01" width="16.1" height="40.89" fill="#b3c7da"/>
<rect x="351.75" y="425.82" width="16.1" height="78.08" fill="#97b1cb"/>
<rect x="367.85" y="391.17" width="16.1" height="112.73" fill="#7a9dbe"/>
<path d="M343.70 461.63V464.40M341.70 461.63H345.70M341.70 464.40H345.70" stroke="#4a7bab" stroke-width="1" fill="none"/>
<circle cx="343.70" cy="463.01" r="3.6" fill="#4a7bab"/>
<path d="M359.80 420.28V431.37M357.80 420.28H361.80M357.80 431.37H361.80" stroke="#4a7bab" stroke-width="1" fill="none"/>
<rect x="356.50" y="422.52" width="6.6" height="6.6" fill="#4a7bab"/>
<path d="M375.90 381.01V401.34M373.90 381.01H377.90M373.90 401.34H377.90" stroke="#4a7bab" stroke-width="1" fill="none"/>
<path d="M375.90 386.97 L379.90 393.97 L371.90 393.97 Z" fill="#4a7bab"/>
<rect x="400.05" y="436.68" width="16.1" height="67.22" fill="#98a7ae"/>
<rect x="416.15" y="398.10" width="16.1" height="105.80" fill="#73858f"/>
<rect x="432.25" y="357.91" width="16.1" height="145.99" fill="#4e6472"/>
<path d="M408.10 425.13V448.23M406.10 425.13H410.10M406.10 448.23H410.10" stroke="#14303f" stroke-width="1" fill="none"/>
<circle cx="408.10" cy="436.68" r="3.6" fill="#14303f"/>
<path d="M424.20 391.17V405.03M422.20 391.17H426.20M422.20 405.03H426.20" stroke="#14303f" stroke-width="1" fill="none"/>
<rect x="420.90" y="394.80" width="6.6" height="6.6" fill="#14303f"/>
<path d="M440.30 352.36V363.45M438.30 352.36H442.30M438.30 363.45H442.30" stroke="#14303f" stroke-width="1" fill="none"/>
<path d="M440.30 353.71 L444.30 360.71 L436.30 360.71 Z" fill="#14303f"/>
<rect x="263.3" y="342.5" width="193.1" height="161.4" fill="none" stroke="#333333" stroke-width="1"/>
<line x1="260.50" y1="503.90" x2="263.30" y2="503.90" stroke="#555" stroke-width="0.8" />
<text x="258.80" y="506.90" font-size="8.4" text-anchor="end" fill="#222" stroke="#222" stroke-width="0.1" >0.0</text>
<line x1="260.50" y1="480.80" x2="263.30" y2="480.80" stroke="#555" stroke-width="0.8" />
<text x="258.80" y="483.80" font-size="8.4" text-anchor="end" fill="#222" stroke="#222" stroke-width="0.1" >0.5</text>
<line x1="260.50" y1="457.70" x2="263.30" y2="457.70" stroke="#555" stroke-width="0.8" />
<text x="258.80" y="460.70" font-size="8.4" text-anchor="end" fill="#222" stroke="#222" stroke-width="0.1" >1.0</text>
<line x1="260.50" y1="434.60" x2="263.30" y2="434.60" stroke="#555" stroke-width="0.8" />
<text x="258.80" y="437.60" font-size="8.4" text-anchor="end" fill="#222" stroke="#222" stroke-width="0.1" >1.5</text>
<line x1="260.50" y1="411.50" x2="263.30" y2="411.50" stroke="#555" stroke-width="0.8" />
<text x="258.80" y="414.50" font-size="8.4" text-anchor="end" fill="#222" stroke="#222" stroke-width="0.1" >2.0</text>
<line x1="260.50" y1="388.40" x2="263.30" y2="388.40" stroke="#555" stroke-width="0.8" />
<text x="258.80" y="391.40" font-size="8.4" text-anchor="end" fill="#222" stroke="#222" stroke-width="0.1" >2.5</text>
<line x1="260.50" y1="365.30" x2="263.30" y2="365.30" stroke="#555" stroke-width="0.8" />
<text x="258.80" y="368.30" font-size="8.4" text-anchor="end" fill="#222" stroke="#222" stroke-width="0.1" >3.0</text>
<line x1="260.50" y1="342.20" x2="263.30" y2="342.20" stroke="#555" stroke-width="0.8" />
<text x="258.80" y="345.20" font-size="8.4" text-anchor="end" fill="#222" stroke="#222" stroke-width="0.1" >3.5</text>
<line x1="295.40" y1="503.90" x2="295.40" y2="506.70" stroke="#555" stroke-width="0.8" />
<text x="295.40" y="515.60" font-size="8.4" text-anchor="middle" fill="#222" stroke="#222" stroke-width="0.1" >3.7CA</text>
<line x1="359.80" y1="503.90" x2="359.80" y2="506.70" stroke="#555" stroke-width="0.8" />
<text x="359.80" y="515.60" font-size="8.4" text-anchor="middle" fill="#222" stroke="#222" stroke-width="0.1" >5.6CA</text>
<line x1="424.20" y1="503.90" x2="424.20" y2="506.70" stroke="#555" stroke-width="0.8" />
<text x="424.20" y="515.60" font-size="8.4" text-anchor="middle" fill="#222" stroke="#222" stroke-width="0.1" >7.3CA</text>
<text x="359.30" y="525.60" font-size="8.54" text-anchor="middle" fill="#222" stroke="#222" stroke-width="0.1" >Ceria domain size</text>
<text transform="translate(224.4 413.8) rotate(-90)" font-size="9.1" text-anchor="middle" fill="#222">Total O<tspan font-size="6.37" dy="1.9">2</tspan><tspan dy="-1.9"> uptake</tspan></text>
<text transform="translate(235.0 413.0) rotate(-90)" font-size="9.2" text-anchor="middle" fill="#222">(μmol[O<tspan font-size="6.44" dy="1.9">2</tspan><tspan dy="-1.9">]/mol</tspan><tspan font-size="5.98" dy="1.9">ceria</tspan><tspan dy="-1.9">)</tspan></text>
<rect x="274.6" y="348.1" width="72.3" height="50.4" fill="#ffffff" fill-opacity="0.8" stroke="#d4d4d4" stroke-width="0.9"/>
<path d="M283.10 350.50V359.80M281.50 350.50H284.70M281.50 359.80H284.70" stroke="#111" stroke-width="0.9" fill="none"/>
<circle cx="283.1" cy="355.1" r="3.1" fill="#13296a" stroke="#111" stroke-width="0.5"/>
<path d="M283.10 367.50V377.00M281.50 367.50H284.70M281.50 377.00H284.70" stroke="#111" stroke-width="0.9" fill="none"/>
<rect x="280.1" y="369.2" width="6" height="6" fill="#111"/>
<path d="M283.10 384.50V394.00M281.50 384.50H284.70M281.50 394.00H284.70" stroke="#111" stroke-width="0.9" fill="none"/>
<path d="M283.1 385.5 L287 392.5 L279.2 392.5 Z" fill="#111"/>
<text x="293.40" y="359.50" font-size="8.9" text-anchor="start" fill="#222" stroke="#222" stroke-width="0.1" >Ce<tspan font-size="6.2" dy="-3.2">3+</tspan><tspan dy="3.2"> = 20%</tspan></text>
<text x="293.40" y="376.60" font-size="8.9" text-anchor="start" fill="#222" stroke="#222" stroke-width="0.1" >Ce<tspan font-size="6.2" dy="-3.2">3+</tspan><tspan dy="3.2"> = 30%</tspan></text>
<text x="293.40" y="393.70" font-size="8.9" text-anchor="start" fill="#222" stroke="#222" stroke-width="0.1" >Ce<tspan font-size="6.2" dy="-3.2">3+</tspan><tspan dy="3.2"> = 40%</tspan></text>
<line x1="527.9" y1="497.0" x2="671.3" y2="349.6" stroke="#bdbdbd" stroke-width="1.15" stroke-dasharray="4.2,2.6"/>
<path d="M543.14 480.63H565.36M543.14 478.33V482.93M565.36 478.33V482.93" stroke="#d9646e" stroke-width="1.35" fill="none"/>
<path d="M554.25 461.51V499.75M551.95 461.51H556.55M551.95 499.75H556.55" stroke="#d9646e" stroke-width="1.35" fill="none"/>
<circle cx="554.25" cy="480.63" r="3.6" fill="#d9646e"/>
<path d="M549.62 468.20H557.03M549.62 465.90V470.50M557.03 465.90V470.50" stroke="#d9646e" stroke-width="1.35" fill="none"/>
<path d="M553.33 466.29V470.12M551.03 466.29H555.62M551.03 470.12H555.62" stroke="#d9646e" stroke-width="1.35" fill="none"/>
<rect x="550.03" y="464.90" width="6.6" height="6.6" fill="#d9646e"/>
<path d="M575.55 446.22H606.11M575.55 443.92V448.52M606.11 443.92V448.52" stroke="#d9646e" stroke-width="1.35" fill="none"/>
<path d="M590.83 432.83V459.60M588.53 432.83H593.13M588.53 459.60H593.13" stroke="#d9646e" stroke-width="1.35" fill="none"/>
<path d="M590.83 442.02 L594.83 449.02 L586.83 449.02 Z" fill="#d9646e"/>
<path d="M558.42 467.73H561.20M558.42 465.43V470.03M561.20 465.43V470.03" stroke="#4a7bab" stroke-width="1.35" fill="none"/>
<path d="M559.81 461.99V473.46M557.51 461.99H562.11M557.51 473.46H562.11" stroke="#4a7bab" stroke-width="1.35" fill="none"/>
<circle cx="559.81" cy="467.73" r="3.6" fill="#4a7bab"/>
<path d="M590.83 441.91H601.94M590.83 439.61V444.21M601.94 439.61V444.21" stroke="#4a7bab" stroke-width="1.35" fill="none"/>
<path d="M596.38 428.05V455.78M594.08 428.05H598.68M594.08 455.78H598.68" stroke="#4a7bab" stroke-width="1.35" fill="none"/>
<rect x="593.08" y="438.61" width="6.6" height="6.6" fill="#4a7bab"/>
<path d="M621.39 407.02H639.91M621.39 404.72V409.32M639.91 404.72V409.32" stroke="#4a7bab" stroke-width="1.35" fill="none"/>
<path d="M630.65 396.50V417.54M628.35 396.50H632.95M628.35 417.54H632.95" stroke="#4a7bab" stroke-width="1.35" fill="none"/>
<path d="M630.65 402.82 L634.65 409.82 L626.65 409.82 Z" fill="#4a7bab"/>
<path d="M574.62 474.90H597.77M574.62 472.60V477.20M597.77 472.60V477.20" stroke="#14303f" stroke-width="1.35" fill="none"/>
<path d="M586.20 472.51V477.29M583.90 472.51H588.50M583.90 477.29H588.50" stroke="#14303f" stroke-width="1.35" fill="none"/>
<circle cx="586.20" cy="474.90" r="3.6" fill="#14303f"/>
<path d="M619.53 427.57H628.79M619.53 425.27V429.87M628.79 425.27V429.87" stroke="#14303f" stroke-width="1.35" fill="none"/>
<path d="M624.16 421.84V433.31M621.86 421.84H626.46M621.86 433.31H626.46" stroke="#14303f" stroke-width="1.35" fill="none"/>
<rect x="620.86" y="424.27" width="6.6" height="6.6" fill="#14303f"/>
<path d="M659.35 361.61H670.46M659.35 359.31V363.91M670.46 359.31V363.91" stroke="#14303f" stroke-width="1.35" fill="none"/>
<path d="M664.91 356.83V366.39M662.61 356.83H667.21M662.61 366.39H667.21" stroke="#14303f" stroke-width="1.35" fill="none"/>
<path d="M664.91 357.41 L668.91 364.41 L660.91 364.41 Z" fill="#14303f"/>
<rect x="527.9" y="349.6" width="143.4" height="147.4" fill="none" stroke="#333333" stroke-width="1"/>
<line x1="525.10" y1="483.50" x2="527.90" y2="483.50" stroke="#555" stroke-width="0.8" />
<text x="521.60" y="486.60" font-size="8.7" text-anchor="end" fill="#222" stroke="#222" stroke-width="0.1" >0.5</text>
<line x1="541.75" y1="497.00" x2="541.75" y2="499.80" stroke="#555" stroke-width="0.8" />
<text x="541.75" y="510.20" font-size="8.7" text-anchor="middle" fill="#222" stroke="#222" stroke-width="0.1" >0.5</text>
<line x1="525.10" y1="459.60" x2="527.90" y2="459.60" stroke="#555" stroke-width="0.8" />
<text x="521.60" y="462.70" font-size="8.7" text-anchor="end" fill="#222" stroke="#222" stroke-width="0.1" >1.0</text>
<line x1="564.90" y1="497.00" x2="564.90" y2="499.80" stroke="#555" stroke-width="0.8" />
<text x="564.90" y="510.20" font-size="8.7" text-anchor="middle" fill="#222" stroke="#222" stroke-width="0.1" >1.0</text>
<line x1="525.10" y1="435.70" x2="527.90" y2="435.70" stroke="#555" stroke-width="0.8" />
<text x="521.60" y="438.80" font-size="8.7" text-anchor="end" fill="#222" stroke="#222" stroke-width="0.1" >1.5</text>
<line x1="588.05" y1="497.00" x2="588.05" y2="499.80" stroke="#555" stroke-width="0.8" />
<text x="588.05" y="510.20" font-size="8.7" text-anchor="middle" fill="#222" stroke="#222" stroke-width="0.1" >1.5</text>
<line x1="525.10" y1="411.80" x2="527.90" y2="411.80" stroke="#555" stroke-width="0.8" />
<text x="521.60" y="414.90" font-size="8.7" text-anchor="end" fill="#222" stroke="#222" stroke-width="0.1" >2.0</text>
<line x1="611.20" y1="497.00" x2="611.20" y2="499.80" stroke="#555" stroke-width="0.8" />
<text x="611.20" y="510.20" font-size="8.7" text-anchor="middle" fill="#222" stroke="#222" stroke-width="0.1" >2.0</text>
<line x1="525.10" y1="387.90" x2="527.90" y2="387.90" stroke="#555" stroke-width="0.8" />
<text x="521.60" y="391.00" font-size="8.7" text-anchor="end" fill="#222" stroke="#222" stroke-width="0.1" >2.5</text>
<line x1="634.35" y1="497.00" x2="634.35" y2="499.80" stroke="#555" stroke-width="0.8" />
<text x="634.35" y="510.20" font-size="8.7" text-anchor="middle" fill="#222" stroke="#222" stroke-width="0.1" >2.5</text>
<line x1="525.10" y1="364.00" x2="527.90" y2="364.00" stroke="#555" stroke-width="0.8" />
<text x="521.60" y="367.10" font-size="8.7" text-anchor="end" fill="#222" stroke="#222" stroke-width="0.1" >3.0</text>
<line x1="657.50" y1="497.00" x2="657.50" y2="499.80" stroke="#555" stroke-width="0.8" />
<text x="657.50" y="510.20" font-size="8.7" text-anchor="middle" fill="#222" stroke="#222" stroke-width="0.1" >3.0</text>
<text x="600.10" y="520.60" font-size="9.1" text-anchor="middle" fill="#222" stroke="#222" stroke-width="0.1" >Total O<tspan font-size="6.4" dy="1.8">2</tspan><tspan dy="-1.8"> uptake</tspan></text>
<text x="599.90" y="531.30" font-size="9.2" text-anchor="middle" fill="#222" stroke="#222" stroke-width="0.1" >(μmol[O<tspan font-size="6.4" dy="1.8">2</tspan><tspan dy="-1.8">]/mol</tspan><tspan font-size="6" dy="1.8">ceria</tspan><tspan dy="-1.8">)</tspan></text>
<text transform="translate(489.4 420.5) rotate(-90)" font-size="9.1" text-anchor="middle" fill="#222">Total O<tspan font-size="6.37" dy="1.9">2</tspan><tspan dy="-1.9"> uptake</tspan></text>
<text transform="translate(500.4 418.4) rotate(-90)" font-size="9.2" text-anchor="middle" fill="#222">(μmol[O<tspan font-size="6.44" dy="1.9">2</tspan><tspan dy="-1.9">]/mol</tspan><tspan font-size="5.98" dy="1.9">ceria</tspan><tspan dy="-1.9">)</tspan></text>
<path d="M549.9 369.1 H538.5" stroke="#333" stroke-width="1"/><path d="M535.6 369.1 L539.6 367.1 L539.6 371.1 Z" fill="#333"/>
<text x="574.00" y="365.00" font-size="8.6" text-anchor="middle" fill="#222" stroke="#222" stroke-width="0.1" >CeO<tspan font-size="6" dy="1.8">2</tspan><tspan dy="-1.8">-Al</tspan><tspan font-size="6" dy="1.8">2</tspan><tspan dy="-1.8">O</tspan><tspan font-size="6" dy="1.8">3</tspan></text>
<text x="574.00" y="375.60" font-size="8.6" text-anchor="middle" fill="#222" stroke="#222" stroke-width="0.1" >models</text>
<text x="638.80" y="465.50" font-size="8.6" text-anchor="middle" fill="#222" stroke="#222" stroke-width="0.1" >Pt/CeO<tspan font-size="6" dy="1.8">2</tspan><tspan dy="-1.8">-Al</tspan><tspan font-size="6" dy="1.8">2</tspan><tspan dy="-1.8">O</tspan><tspan font-size="6" dy="1.8">3</tspan></text>
<text x="638.80" y="476.00" font-size="8.6" text-anchor="middle" fill="#222" stroke="#222" stroke-width="0.1" >models</text>
<path d="M642.8 479.4 V489.5" stroke="#333" stroke-width="1"/><path d="M642.8 493.1 L640.8 489 L644.8 489 Z" fill="#333"/>
</svg></body></html>
